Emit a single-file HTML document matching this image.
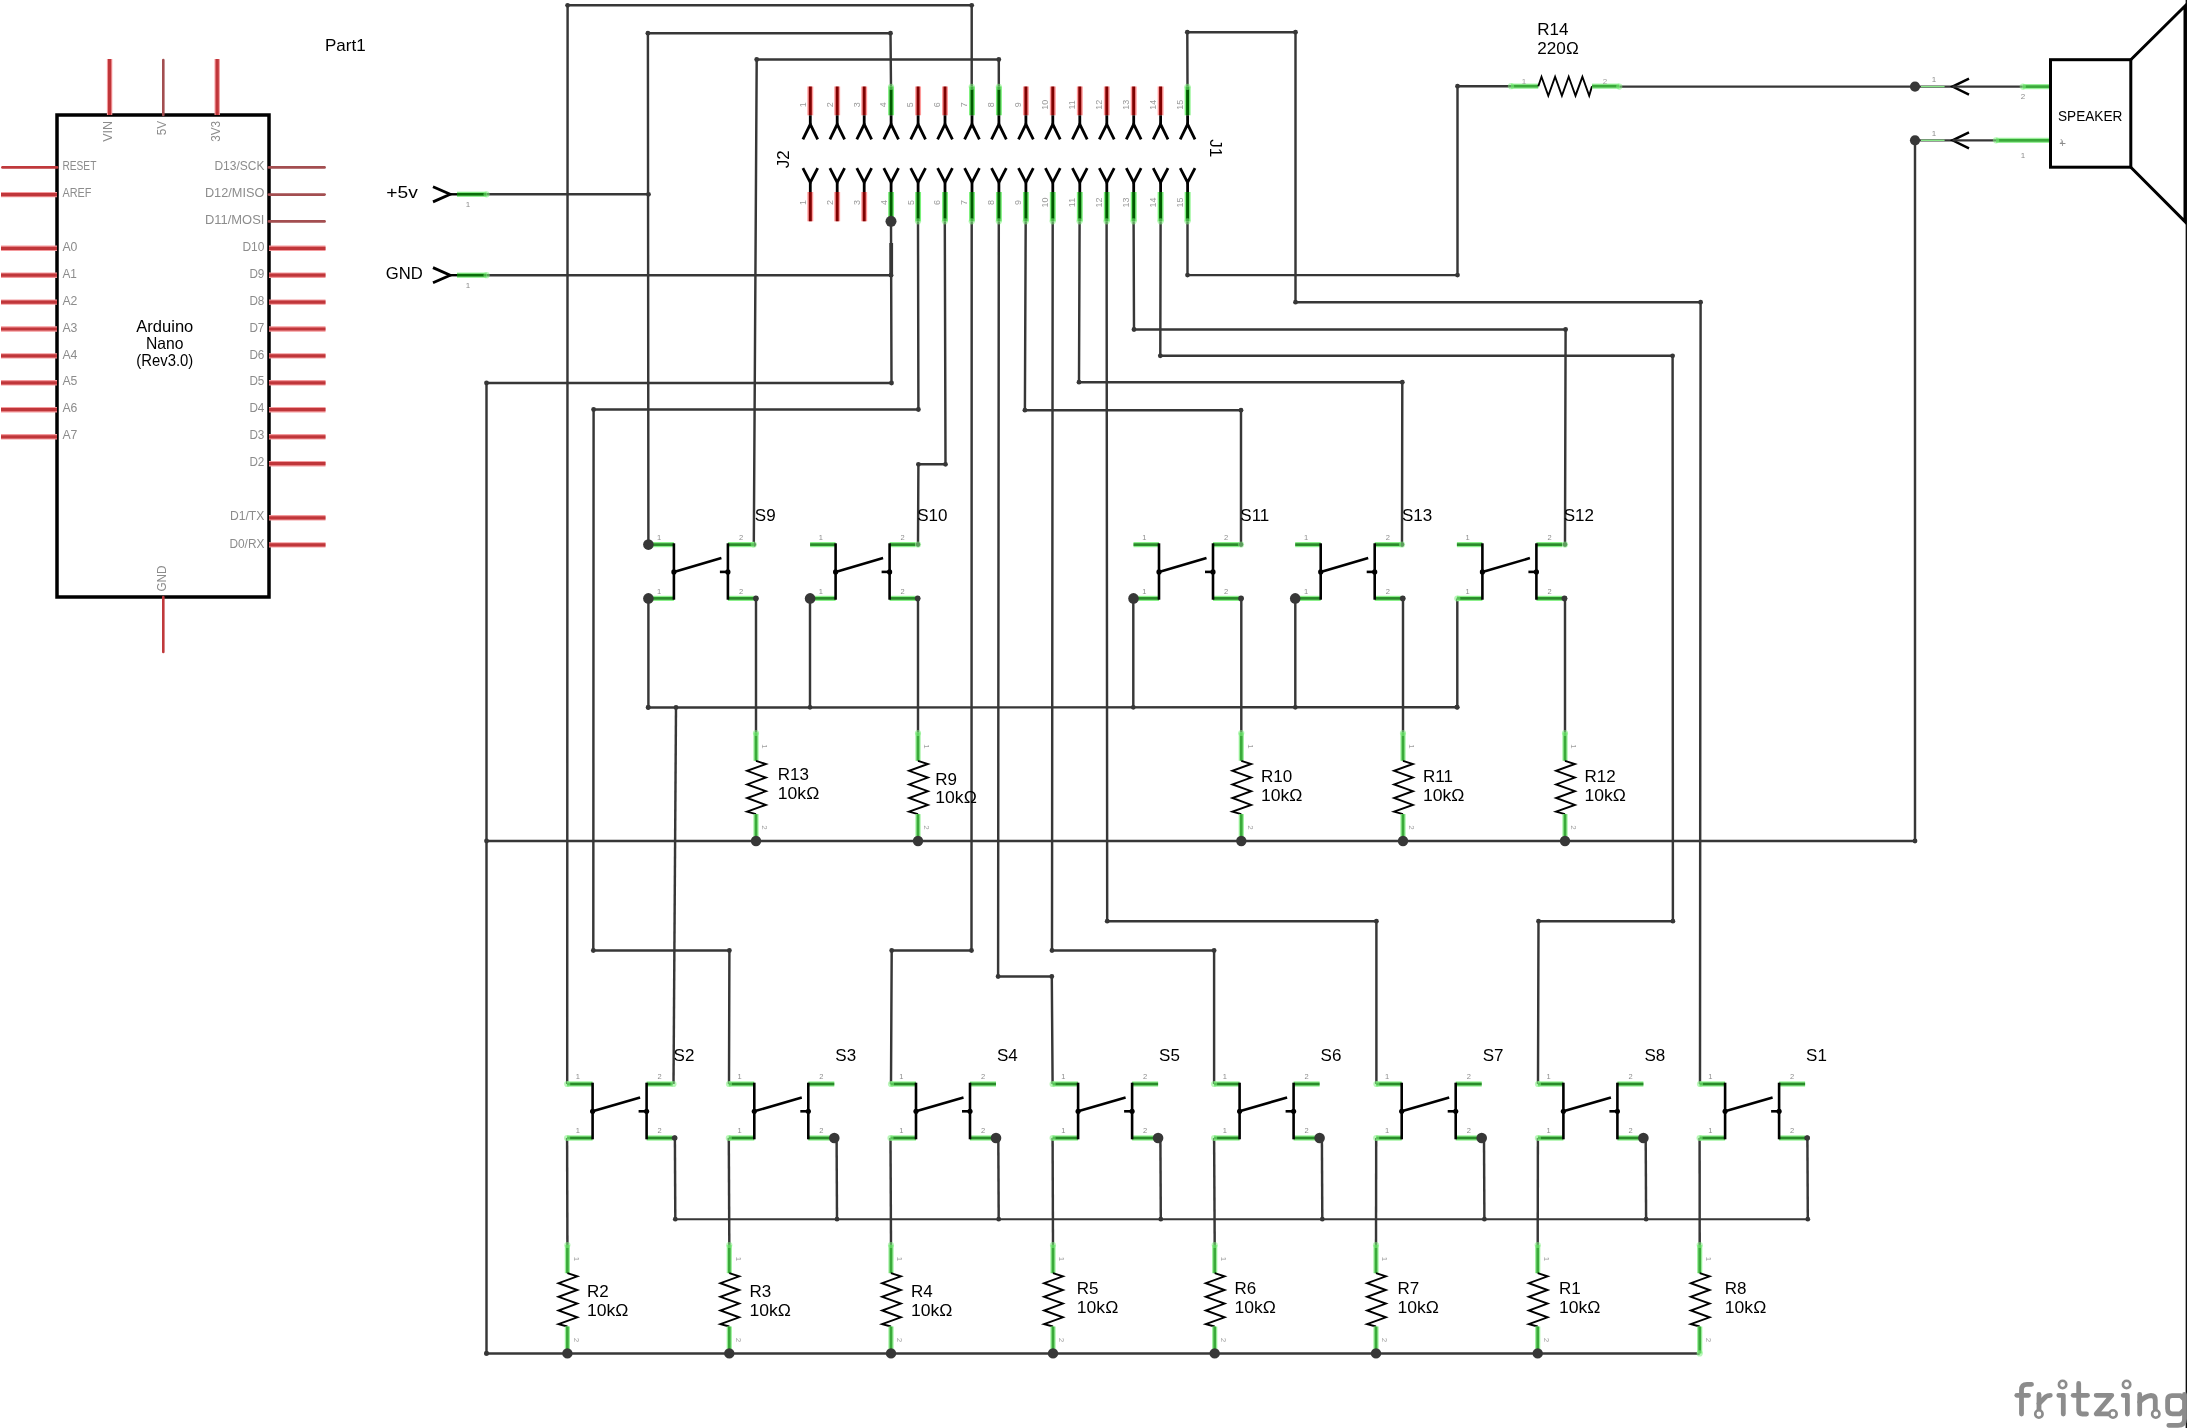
<!DOCTYPE html><html><head><meta charset="utf-8"><style>html,body{margin:0;padding:0;background:#fff;}svg{display:block;will-change:transform;}</style></head><body><svg width="2187" height="1428" viewBox="0 0 2187 1428" font-family='"Liberation Sans", sans-serif'>
<rect width="2187" height="1428" fill="#fff"/>
<polyline points="486.6,194.3 648.5,194.3" fill="none" stroke="#373737" stroke-width="2.45" stroke-linejoin="miter" stroke-linecap="butt"/>
<circle cx="648.5" cy="194.3" r="2.4" fill="#373737"/>
<polyline points="486.6,275.2 891,275.2" fill="none" stroke="#373737" stroke-width="2.45" stroke-linejoin="miter" stroke-linecap="butt"/>
<circle cx="891" cy="275.2" r="2.4" fill="#373737"/>
<polyline points="891,86.8 890.5,33.2 647.9,33.2 648.4,544.6" fill="none" stroke="#373737" stroke-width="2.45" stroke-linejoin="miter" stroke-linecap="butt"/>
<circle cx="890.5" cy="33.2" r="2.4" fill="#373737"/>
<circle cx="647.9" cy="33.2" r="2.4" fill="#373737"/>
<polyline points="971.7,86.8 971.7,5.3 567.6,5.3 567.2,1084" fill="none" stroke="#373737" stroke-width="2.45" stroke-linejoin="miter" stroke-linecap="butt"/>
<circle cx="971.7" cy="5.3" r="2.4" fill="#373737"/>
<circle cx="567.6" cy="5.3" r="2.4" fill="#373737"/>
<polyline points="998.8,86.8 998.8,59.5 756.7,59.5 753.8,544.6" fill="none" stroke="#373737" stroke-width="2.45" stroke-linejoin="miter" stroke-linecap="butt"/>
<circle cx="998.8" cy="59.5" r="2.4" fill="#373737"/>
<circle cx="756.7" cy="59.5" r="2.4" fill="#373737"/>
<circle cx="753.8" cy="544.6" r="2.3" fill="#373737"/>
<polyline points="1187.5,86.8 1187.3,32.2 1295.5,32.2 1295.5,302.2 1700.6,302.2 1700,1084" fill="none" stroke="#373737" stroke-width="2.45" stroke-linejoin="miter" stroke-linecap="butt"/>
<circle cx="1187.3" cy="32.2" r="2.4" fill="#373737"/>
<circle cx="1295.5" cy="32.2" r="2.4" fill="#373737"/>
<circle cx="1295.5" cy="302.2" r="2.4" fill="#373737"/>
<circle cx="1700.6" cy="302.2" r="2.4" fill="#373737"/>
<polyline points="891,221.3 891.5,383 486.5,383 486.5,1353.4" fill="none" stroke="#373737" stroke-width="2.45" stroke-linejoin="miter" stroke-linecap="butt"/>
<circle cx="891.5" cy="383" r="2.4" fill="#373737"/>
<circle cx="486.5" cy="383" r="2.4" fill="#373737"/>
<circle cx="486.5" cy="1353.4" r="2.4" fill="#373737"/>
<polyline points="918,221.3 918.4,409.5 593.6,409.5 593.3,950.5 729.4,950.5 729,1084" fill="none" stroke="#373737" stroke-width="2.45" stroke-linejoin="miter" stroke-linecap="butt"/>
<circle cx="918.4" cy="409.5" r="2.4" fill="#373737"/>
<circle cx="593.6" cy="409.5" r="2.4" fill="#373737"/>
<circle cx="593.3" cy="950.5" r="2.4" fill="#373737"/>
<circle cx="729.4" cy="950.5" r="2.4" fill="#373737"/>
<polyline points="944.8,221.3 945.5,464.3 918.4,464.3 918,544.6" fill="none" stroke="#373737" stroke-width="2.45" stroke-linejoin="miter" stroke-linecap="butt"/>
<circle cx="945.5" cy="464.3" r="2.4" fill="#373737"/>
<circle cx="918.4" cy="464.3" r="2.4" fill="#373737"/>
<circle cx="918" cy="544.6" r="2.3" fill="#373737"/>
<polyline points="971.7,221.3 971.5,950.5 891.7,950.5 891,1084" fill="none" stroke="#373737" stroke-width="2.45" stroke-linejoin="miter" stroke-linecap="butt"/>
<circle cx="971.5" cy="950.5" r="2.4" fill="#373737"/>
<circle cx="891.7" cy="950.5" r="2.4" fill="#373737"/>
<polyline points="998.8,221.3 998.1,976.5 1051.8,976.5 1052.6,1084" fill="none" stroke="#373737" stroke-width="2.45" stroke-linejoin="miter" stroke-linecap="butt"/>
<circle cx="998.1" cy="976.5" r="2.4" fill="#373737"/>
<circle cx="1051.8" cy="976.5" r="2.4" fill="#373737"/>
<polyline points="1025.7,221.3 1024.9,410.2 1241,410.2 1241,544.6" fill="none" stroke="#373737" stroke-width="2.45" stroke-linejoin="miter" stroke-linecap="butt"/>
<circle cx="1024.9" cy="410.2" r="2.4" fill="#373737"/>
<circle cx="1241" cy="410.2" r="2.4" fill="#373737"/>
<circle cx="1241" cy="544.6" r="2.3" fill="#373737"/>
<polyline points="1052.7,221.3 1052,950.5 1214.1,950.5 1214.1,1084" fill="none" stroke="#373737" stroke-width="2.45" stroke-linejoin="miter" stroke-linecap="butt"/>
<circle cx="1052" cy="950.5" r="2.4" fill="#373737"/>
<circle cx="1214.1" cy="950.5" r="2.4" fill="#373737"/>
<polyline points="1079.6,221.3 1079,382.2 1402.3,382.2 1402,544.6" fill="none" stroke="#373737" stroke-width="2.45" stroke-linejoin="miter" stroke-linecap="butt"/>
<circle cx="1079" cy="382.2" r="2.4" fill="#373737"/>
<circle cx="1402.3" cy="382.2" r="2.4" fill="#373737"/>
<circle cx="1402" cy="544.6" r="2.3" fill="#373737"/>
<polyline points="1106.6,221.3 1107.2,921.2 1376.4,921.2 1376.4,1084" fill="none" stroke="#373737" stroke-width="2.45" stroke-linejoin="miter" stroke-linecap="butt"/>
<circle cx="1107.2" cy="921.2" r="2.4" fill="#373737"/>
<circle cx="1376.4" cy="921.2" r="2.4" fill="#373737"/>
<polyline points="1133.6,221.3 1134,329.5 1565.6,329.5 1565,544.6" fill="none" stroke="#373737" stroke-width="2.45" stroke-linejoin="miter" stroke-linecap="butt"/>
<circle cx="1134" cy="329.5" r="2.4" fill="#373737"/>
<circle cx="1565.6" cy="329.5" r="2.4" fill="#373737"/>
<circle cx="1565" cy="544.6" r="2.3" fill="#373737"/>
<polyline points="1160.6,221.3 1160.3,355.8 1672.6,355.8 1672.9,921.2 1538.5,921.2 1538,1084" fill="none" stroke="#373737" stroke-width="2.45" stroke-linejoin="miter" stroke-linecap="butt"/>
<circle cx="1160.3" cy="355.8" r="2.4" fill="#373737"/>
<circle cx="1672.6" cy="355.8" r="2.4" fill="#373737"/>
<circle cx="1672.9" cy="921.2" r="2.4" fill="#373737"/>
<circle cx="1538.5" cy="921.2" r="2.4" fill="#373737"/>
<polyline points="1187.5,221.3 1187.5,275.1 1457.5,275.1 1457.5,86.2 1511,86.2" fill="none" stroke="#373737" stroke-width="2.45" stroke-linejoin="miter" stroke-linecap="butt"/>
<circle cx="1187.5" cy="275.1" r="2.4" fill="#373737"/>
<circle cx="1457.5" cy="275.1" r="2.4" fill="#373737"/>
<circle cx="1457.5" cy="86.2" r="2.4" fill="#373737"/>
<polyline points="1619.3,86.6 1915,86.6" fill="none" stroke="#373737" stroke-width="2.45" stroke-linejoin="miter" stroke-linecap="butt"/>
<polyline points="1915,140.3 1915,841" fill="none" stroke="#373737" stroke-width="2.45" stroke-linejoin="miter" stroke-linecap="butt"/>
<circle cx="1915" cy="841" r="2.4" fill="#373737"/>
<polyline points="648.1,707.5 1456.8,707.2" fill="none" stroke="#373737" stroke-width="2.45" stroke-linejoin="miter" stroke-linecap="butt"/>
<circle cx="648.1" cy="707.5" r="2.4" fill="#373737"/>
<circle cx="1456.8" cy="707.2" r="2.4" fill="#373737"/>
<polyline points="648.4,598.5 648.4,707.3" fill="none" stroke="#373737" stroke-width="2.45" stroke-linejoin="miter" stroke-linecap="butt"/>
<circle cx="648.4" cy="707.3" r="2.4" fill="#373737"/>
<polyline points="810,598.5 810,707.3" fill="none" stroke="#373737" stroke-width="2.45" stroke-linejoin="miter" stroke-linecap="butt"/>
<circle cx="810" cy="707.3" r="2.4" fill="#373737"/>
<polyline points="1133.3,598.5 1133.3,707.3" fill="none" stroke="#373737" stroke-width="2.45" stroke-linejoin="miter" stroke-linecap="butt"/>
<circle cx="1133.3" cy="707.3" r="2.4" fill="#373737"/>
<polyline points="1295.3,598.5 1295.3,707.3" fill="none" stroke="#373737" stroke-width="2.45" stroke-linejoin="miter" stroke-linecap="butt"/>
<circle cx="1295.3" cy="707.3" r="2.4" fill="#373737"/>
<polyline points="1457.3,598.5 1457.3,707.3" fill="none" stroke="#373737" stroke-width="2.45" stroke-linejoin="miter" stroke-linecap="butt"/>
<circle cx="1457.3" cy="707.3" r="2.4" fill="#373737"/>
<polyline points="676,707.5 673.5,1084" fill="none" stroke="#373737" stroke-width="2.45" stroke-linejoin="miter" stroke-linecap="butt"/>
<circle cx="676" cy="707.5" r="2.4" fill="#373737"/>
<polyline points="756,598.5 756,733" fill="none" stroke="#373737" stroke-width="2.45" stroke-linejoin="miter" stroke-linecap="butt"/>
<circle cx="756" cy="598.5" r="2.4" fill="#373737"/>
<polyline points="918,598.5 918,733" fill="none" stroke="#373737" stroke-width="2.45" stroke-linejoin="miter" stroke-linecap="butt"/>
<circle cx="918" cy="598.5" r="2.4" fill="#373737"/>
<polyline points="1241.3,598.5 1241.3,733" fill="none" stroke="#373737" stroke-width="2.45" stroke-linejoin="miter" stroke-linecap="butt"/>
<circle cx="1241.3" cy="598.5" r="2.4" fill="#373737"/>
<polyline points="1403,598.5 1403,733" fill="none" stroke="#373737" stroke-width="2.45" stroke-linejoin="miter" stroke-linecap="butt"/>
<circle cx="1403" cy="598.5" r="2.4" fill="#373737"/>
<polyline points="1565,598.5 1565,733" fill="none" stroke="#373737" stroke-width="2.45" stroke-linejoin="miter" stroke-linecap="butt"/>
<circle cx="1565" cy="598.5" r="2.4" fill="#373737"/>
<polyline points="486.5,841 1915,841" fill="none" stroke="#373737" stroke-width="2.45" stroke-linejoin="miter" stroke-linecap="butt"/>
<circle cx="486.5" cy="841" r="2.4" fill="#373737"/>
<polyline points="674.9,1138 675.3,1219.2" fill="none" stroke="#373737" stroke-width="2.45" stroke-linejoin="miter" stroke-linecap="butt"/>
<circle cx="674.9" cy="1138" r="2.4" fill="#373737"/>
<circle cx="675.3" cy="1219.2" r="2.4" fill="#373737"/>
<polyline points="836.6,1138 837,1219.2" fill="none" stroke="#373737" stroke-width="2.45" stroke-linejoin="miter" stroke-linecap="butt"/>
<circle cx="837" cy="1219.2" r="2.4" fill="#373737"/>
<polyline points="998.3,1138 998.7,1219.2" fill="none" stroke="#373737" stroke-width="2.45" stroke-linejoin="miter" stroke-linecap="butt"/>
<circle cx="998.7" cy="1219.2" r="2.4" fill="#373737"/>
<polyline points="1160.4,1138 1160.8,1219.2" fill="none" stroke="#373737" stroke-width="2.45" stroke-linejoin="miter" stroke-linecap="butt"/>
<circle cx="1160.8" cy="1219.2" r="2.4" fill="#373737"/>
<polyline points="1321.9,1138 1322.3,1219.2" fill="none" stroke="#373737" stroke-width="2.45" stroke-linejoin="miter" stroke-linecap="butt"/>
<circle cx="1322.3" cy="1219.2" r="2.4" fill="#373737"/>
<polyline points="1484,1138 1484.4,1219.2" fill="none" stroke="#373737" stroke-width="2.45" stroke-linejoin="miter" stroke-linecap="butt"/>
<circle cx="1484.4" cy="1219.2" r="2.4" fill="#373737"/>
<polyline points="1645.7,1138 1646.1,1219.2" fill="none" stroke="#373737" stroke-width="2.45" stroke-linejoin="miter" stroke-linecap="butt"/>
<circle cx="1646.1" cy="1219.2" r="2.4" fill="#373737"/>
<polyline points="1807.4,1138 1807.8,1219.2" fill="none" stroke="#373737" stroke-width="2.45" stroke-linejoin="miter" stroke-linecap="butt"/>
<circle cx="1807.4" cy="1138" r="2.4" fill="#373737"/>
<circle cx="1807.8" cy="1219.2" r="2.4" fill="#373737"/>
<polyline points="675.4,1219.2 1807.8,1219.2" fill="none" stroke="#373737" stroke-width="2.0" stroke-linejoin="miter" stroke-linecap="butt"/>
<polyline points="567.1,1138 567.4,1245" fill="none" stroke="#373737" stroke-width="2.45" stroke-linejoin="miter" stroke-linecap="butt"/>
<polyline points="728.8,1138 729.3,1245" fill="none" stroke="#373737" stroke-width="2.45" stroke-linejoin="miter" stroke-linecap="butt"/>
<polyline points="890.5,1138 891,1245" fill="none" stroke="#373737" stroke-width="2.45" stroke-linejoin="miter" stroke-linecap="butt"/>
<polyline points="1052.6,1138 1053,1245" fill="none" stroke="#373737" stroke-width="2.45" stroke-linejoin="miter" stroke-linecap="butt"/>
<polyline points="1214.1,1138 1214.7,1245" fill="none" stroke="#373737" stroke-width="2.45" stroke-linejoin="miter" stroke-linecap="butt"/>
<polyline points="1376.2,1138 1376,1245" fill="none" stroke="#373737" stroke-width="2.45" stroke-linejoin="miter" stroke-linecap="butt"/>
<polyline points="1537.9,1138 1537.7,1245" fill="none" stroke="#373737" stroke-width="2.45" stroke-linejoin="miter" stroke-linecap="butt"/>
<polyline points="1699.6,1138 1699.7,1245" fill="none" stroke="#373737" stroke-width="2.45" stroke-linejoin="miter" stroke-linecap="butt"/>
<polyline points="486.5,1353.4 1699.7,1353.4" fill="none" stroke="#373737" stroke-width="2.45" stroke-linejoin="miter" stroke-linecap="butt"/>
<circle cx="486.5" cy="1353.4" r="2.4" fill="#373737"/>
<rect x="57" y="115" width="212" height="482" fill="none" stroke="#000" stroke-width="3.5"/>
<line x1="109.6" y1="59" x2="109.6" y2="115" stroke="#f49a9d" stroke-width="5.4" stroke-linecap="butt"/>
<line x1="109.6" y1="59" x2="109.6" y2="115" stroke="#c0363a" stroke-width="3.2" stroke-linecap="butt"/>
<line x1="163.3" y1="60" x2="163.3" y2="115" stroke="#a34e50" stroke-width="2.6" stroke-linecap="round"/>
<line x1="217.2" y1="59" x2="217.2" y2="115" stroke="#f49a9d" stroke-width="5.4" stroke-linecap="butt"/>
<line x1="217.2" y1="59" x2="217.2" y2="115" stroke="#c0363a" stroke-width="3.2" stroke-linecap="butt"/>
<text x="112.2" y="120.8" font-size="12.5" fill="#8c8c8c" text-anchor="end" textLength="21" lengthAdjust="spacingAndGlyphs" transform="rotate(-90 112.2 120.8)">VIN</text>
<text x="166" y="120.8" font-size="12.5" fill="#8c8c8c" text-anchor="end" textLength="14.5" lengthAdjust="spacingAndGlyphs" transform="rotate(-90 166 120.8)">5V</text>
<text x="219.9" y="120.8" font-size="12.5" fill="#8c8c8c" text-anchor="end" textLength="21" lengthAdjust="spacingAndGlyphs" transform="rotate(-90 219.9 120.8)">3V3</text>
<line x1="2.5" y1="167.4" x2="57" y2="167.4" stroke="#c0393c" stroke-width="2.8" stroke-linecap="round"/>
<text x="62.4" y="170" font-size="12.5" fill="#8c8c8c" text-anchor="start" textLength="34" lengthAdjust="spacingAndGlyphs">RESET</text>
<line x1="1" y1="194.6" x2="57" y2="194.6" stroke="#f49a9d" stroke-width="5.4" stroke-linecap="butt"/>
<line x1="1" y1="194.6" x2="57" y2="194.6" stroke="#c0363a" stroke-width="3.2" stroke-linecap="butt"/>
<text x="62.4" y="197.2" font-size="12.5" fill="#8c8c8c" text-anchor="start" textLength="29" lengthAdjust="spacingAndGlyphs">AREF</text>
<line x1="1" y1="248.3" x2="57" y2="248.3" stroke="#f49a9d" stroke-width="5.4" stroke-linecap="butt"/>
<line x1="1" y1="248.3" x2="57" y2="248.3" stroke="#c0363a" stroke-width="3.2" stroke-linecap="butt"/>
<text x="62.4" y="250.9" font-size="12.5" fill="#8c8c8c" text-anchor="start" textLength="15" lengthAdjust="spacingAndGlyphs">A0</text>
<line x1="1" y1="275.2" x2="57" y2="275.2" stroke="#f49a9d" stroke-width="5.4" stroke-linecap="butt"/>
<line x1="1" y1="275.2" x2="57" y2="275.2" stroke="#c0363a" stroke-width="3.2" stroke-linecap="butt"/>
<text x="62.4" y="277.8" font-size="12.5" fill="#8c8c8c" text-anchor="start" textLength="14.5" lengthAdjust="spacingAndGlyphs">A1</text>
<line x1="1" y1="302.1" x2="57" y2="302.1" stroke="#f49a9d" stroke-width="5.4" stroke-linecap="butt"/>
<line x1="1" y1="302.1" x2="57" y2="302.1" stroke="#c0363a" stroke-width="3.2" stroke-linecap="butt"/>
<text x="62.4" y="304.7" font-size="12.5" fill="#8c8c8c" text-anchor="start" textLength="15" lengthAdjust="spacingAndGlyphs">A2</text>
<line x1="1" y1="329" x2="57" y2="329" stroke="#f49a9d" stroke-width="5.4" stroke-linecap="butt"/>
<line x1="1" y1="329" x2="57" y2="329" stroke="#c0363a" stroke-width="3.2" stroke-linecap="butt"/>
<text x="62.4" y="331.6" font-size="12.5" fill="#8c8c8c" text-anchor="start" textLength="15" lengthAdjust="spacingAndGlyphs">A3</text>
<line x1="1" y1="355.9" x2="57" y2="355.9" stroke="#f49a9d" stroke-width="5.4" stroke-linecap="butt"/>
<line x1="1" y1="355.9" x2="57" y2="355.9" stroke="#c0363a" stroke-width="3.2" stroke-linecap="butt"/>
<text x="62.4" y="358.5" font-size="12.5" fill="#8c8c8c" text-anchor="start" textLength="15" lengthAdjust="spacingAndGlyphs">A4</text>
<line x1="1" y1="382.8" x2="57" y2="382.8" stroke="#f49a9d" stroke-width="5.4" stroke-linecap="butt"/>
<line x1="1" y1="382.8" x2="57" y2="382.8" stroke="#c0363a" stroke-width="3.2" stroke-linecap="butt"/>
<text x="62.4" y="385.4" font-size="12.5" fill="#8c8c8c" text-anchor="start" textLength="15" lengthAdjust="spacingAndGlyphs">A5</text>
<line x1="1" y1="409.7" x2="57" y2="409.7" stroke="#f49a9d" stroke-width="5.4" stroke-linecap="butt"/>
<line x1="1" y1="409.7" x2="57" y2="409.7" stroke="#c0363a" stroke-width="3.2" stroke-linecap="butt"/>
<text x="62.4" y="412.3" font-size="12.5" fill="#8c8c8c" text-anchor="start" textLength="15" lengthAdjust="spacingAndGlyphs">A6</text>
<line x1="1" y1="436.8" x2="57" y2="436.8" stroke="#f49a9d" stroke-width="5.4" stroke-linecap="butt"/>
<line x1="1" y1="436.8" x2="57" y2="436.8" stroke="#c0363a" stroke-width="3.2" stroke-linecap="butt"/>
<text x="62.4" y="439.4" font-size="12.5" fill="#8c8c8c" text-anchor="start" textLength="15" lengthAdjust="spacingAndGlyphs">A7</text>
<line x1="269" y1="167.4" x2="324.5" y2="167.4" stroke="#a34e50" stroke-width="2.8" stroke-linecap="round"/>
<text x="264.4" y="170" font-size="12.5" fill="#8c8c8c" text-anchor="end" textLength="50" lengthAdjust="spacingAndGlyphs">D13/SCK</text>
<line x1="269" y1="194.6" x2="324.5" y2="194.6" stroke="#a34e50" stroke-width="2.8" stroke-linecap="round"/>
<text x="264.4" y="197.2" font-size="12.5" fill="#8c8c8c" text-anchor="end" textLength="59.5" lengthAdjust="spacingAndGlyphs">D12/MISO</text>
<line x1="269" y1="221.4" x2="324.5" y2="221.4" stroke="#a34e50" stroke-width="2.8" stroke-linecap="round"/>
<text x="264.4" y="224" font-size="12.5" fill="#8c8c8c" text-anchor="end" textLength="59.5" lengthAdjust="spacingAndGlyphs">D11/MOSI</text>
<line x1="269" y1="248.3" x2="325.5" y2="248.3" stroke="#f49a9d" stroke-width="5.4" stroke-linecap="butt"/>
<line x1="269" y1="248.3" x2="325.5" y2="248.3" stroke="#c0363a" stroke-width="3.2" stroke-linecap="butt"/>
<text x="264.4" y="250.9" font-size="12.5" fill="#8c8c8c" text-anchor="end" textLength="22" lengthAdjust="spacingAndGlyphs">D10</text>
<line x1="269" y1="275.2" x2="325.5" y2="275.2" stroke="#f49a9d" stroke-width="5.4" stroke-linecap="butt"/>
<line x1="269" y1="275.2" x2="325.5" y2="275.2" stroke="#c0363a" stroke-width="3.2" stroke-linecap="butt"/>
<text x="264.4" y="277.8" font-size="12.5" fill="#8c8c8c" text-anchor="end" textLength="15" lengthAdjust="spacingAndGlyphs">D9</text>
<line x1="269" y1="302.1" x2="325.5" y2="302.1" stroke="#f49a9d" stroke-width="5.4" stroke-linecap="butt"/>
<line x1="269" y1="302.1" x2="325.5" y2="302.1" stroke="#c0363a" stroke-width="3.2" stroke-linecap="butt"/>
<text x="264.4" y="304.7" font-size="12.5" fill="#8c8c8c" text-anchor="end" textLength="15" lengthAdjust="spacingAndGlyphs">D8</text>
<line x1="269" y1="329" x2="325.5" y2="329" stroke="#f49a9d" stroke-width="5.4" stroke-linecap="butt"/>
<line x1="269" y1="329" x2="325.5" y2="329" stroke="#c0363a" stroke-width="3.2" stroke-linecap="butt"/>
<text x="264.4" y="331.6" font-size="12.5" fill="#8c8c8c" text-anchor="end" textLength="15" lengthAdjust="spacingAndGlyphs">D7</text>
<line x1="269" y1="355.9" x2="325.5" y2="355.9" stroke="#f49a9d" stroke-width="5.4" stroke-linecap="butt"/>
<line x1="269" y1="355.9" x2="325.5" y2="355.9" stroke="#c0363a" stroke-width="3.2" stroke-linecap="butt"/>
<text x="264.4" y="358.5" font-size="12.5" fill="#8c8c8c" text-anchor="end" textLength="15" lengthAdjust="spacingAndGlyphs">D6</text>
<line x1="269" y1="382.8" x2="325.5" y2="382.8" stroke="#f49a9d" stroke-width="5.4" stroke-linecap="butt"/>
<line x1="269" y1="382.8" x2="325.5" y2="382.8" stroke="#c0363a" stroke-width="3.2" stroke-linecap="butt"/>
<text x="264.4" y="385.4" font-size="12.5" fill="#8c8c8c" text-anchor="end" textLength="15" lengthAdjust="spacingAndGlyphs">D5</text>
<line x1="269" y1="409.7" x2="325.5" y2="409.7" stroke="#f49a9d" stroke-width="5.4" stroke-linecap="butt"/>
<line x1="269" y1="409.7" x2="325.5" y2="409.7" stroke="#c0363a" stroke-width="3.2" stroke-linecap="butt"/>
<text x="264.4" y="412.3" font-size="12.5" fill="#8c8c8c" text-anchor="end" textLength="15" lengthAdjust="spacingAndGlyphs">D4</text>
<line x1="269" y1="436.8" x2="325.5" y2="436.8" stroke="#f49a9d" stroke-width="5.4" stroke-linecap="butt"/>
<line x1="269" y1="436.8" x2="325.5" y2="436.8" stroke="#c0363a" stroke-width="3.2" stroke-linecap="butt"/>
<text x="264.4" y="439.4" font-size="12.5" fill="#8c8c8c" text-anchor="end" textLength="15" lengthAdjust="spacingAndGlyphs">D3</text>
<line x1="269" y1="463.7" x2="325.5" y2="463.7" stroke="#f49a9d" stroke-width="5.4" stroke-linecap="butt"/>
<line x1="269" y1="463.7" x2="325.5" y2="463.7" stroke="#c0363a" stroke-width="3.2" stroke-linecap="butt"/>
<text x="264.4" y="466.3" font-size="12.5" fill="#8c8c8c" text-anchor="end" textLength="15" lengthAdjust="spacingAndGlyphs">D2</text>
<line x1="269" y1="517.8" x2="325.5" y2="517.8" stroke="#f49a9d" stroke-width="5.4" stroke-linecap="butt"/>
<line x1="269" y1="517.8" x2="325.5" y2="517.8" stroke="#c0363a" stroke-width="3.2" stroke-linecap="butt"/>
<text x="264.4" y="520.4" font-size="12.5" fill="#8c8c8c" text-anchor="end" textLength="34.5" lengthAdjust="spacingAndGlyphs">D1/TX</text>
<line x1="269" y1="544.9" x2="325.5" y2="544.9" stroke="#f49a9d" stroke-width="5.4" stroke-linecap="butt"/>
<line x1="269" y1="544.9" x2="325.5" y2="544.9" stroke="#c0363a" stroke-width="3.2" stroke-linecap="butt"/>
<text x="264.4" y="547.5" font-size="12.5" fill="#8c8c8c" text-anchor="end" textLength="35" lengthAdjust="spacingAndGlyphs">D0/RX</text>
<line x1="163.3" y1="597" x2="163.3" y2="652" stroke="#c0393c" stroke-width="2.6" stroke-linecap="round"/>
<text x="166" y="591.5" font-size="12.5" fill="#8c8c8c" text-anchor="start" textLength="26" lengthAdjust="spacingAndGlyphs" transform="rotate(-90 166 591.5)">GND</text>
<text x="164.8" y="332.3" font-size="16.5" fill="#000" text-anchor="middle" textLength="57" lengthAdjust="spacingAndGlyphs">Arduino</text>
<text x="164.8" y="349.2" font-size="16.5" fill="#000" text-anchor="middle" textLength="37.5" lengthAdjust="spacingAndGlyphs">Nano</text>
<text x="164.8" y="366.1" font-size="16.5" fill="#000" text-anchor="middle" textLength="57" lengthAdjust="spacingAndGlyphs">(Rev3.0)</text>
<text x="325" y="51" font-size="17" fill="#000" text-anchor="start" textLength="40.7" lengthAdjust="spacingAndGlyphs">Part1</text>
<line x1="810.3" y1="86.5" x2="810.3" y2="115.3" stroke="#ff9a9a" stroke-width="5.9" stroke-linecap="butt"/>
<line x1="810.3" y1="86.5" x2="810.3" y2="115.3" stroke="#800000" stroke-width="3.0" stroke-linecap="butt"/>
<line x1="810.3" y1="115.3" x2="810.3" y2="124.3" stroke="#000" stroke-width="2.8" stroke-linecap="butt"/>
<polyline points="802.9,139.4 810.3,124.3 817.7,139.4" fill="none" stroke="#000" stroke-width="2.8" stroke-linejoin="miter"/>
<text x="805.7" y="104.8" font-size="9" fill="#9a9a9a" text-anchor="middle" transform="rotate(-90 805.7 104.8)">1</text>
<line x1="810.3" y1="192" x2="810.3" y2="221.3" stroke="#ff9a9a" stroke-width="5.9" stroke-linecap="butt"/>
<line x1="810.3" y1="192" x2="810.3" y2="221.3" stroke="#800000" stroke-width="3.0" stroke-linecap="butt"/>
<line x1="810.3" y1="182.5" x2="810.3" y2="192" stroke="#000" stroke-width="2.8" stroke-linecap="butt"/>
<polyline points="802.9,168.2 810.3,182.5 817.7,168.2" fill="none" stroke="#000" stroke-width="2.8" stroke-linejoin="miter"/>
<text x="805.7" y="202.5" font-size="9" fill="#9a9a9a" text-anchor="middle" transform="rotate(-90 805.7 202.5)">1</text>
<line x1="837.2" y1="86.5" x2="837.2" y2="115.3" stroke="#ff9a9a" stroke-width="5.9" stroke-linecap="butt"/>
<line x1="837.2" y1="86.5" x2="837.2" y2="115.3" stroke="#800000" stroke-width="3.0" stroke-linecap="butt"/>
<line x1="837.2" y1="115.3" x2="837.2" y2="124.3" stroke="#000" stroke-width="2.8" stroke-linecap="butt"/>
<polyline points="829.9,139.4 837.2,124.3 844.6,139.4" fill="none" stroke="#000" stroke-width="2.8" stroke-linejoin="miter"/>
<text x="832.6" y="104.8" font-size="9" fill="#9a9a9a" text-anchor="middle" transform="rotate(-90 832.6 104.8)">2</text>
<line x1="837.2" y1="192" x2="837.2" y2="221.3" stroke="#ff9a9a" stroke-width="5.9" stroke-linecap="butt"/>
<line x1="837.2" y1="192" x2="837.2" y2="221.3" stroke="#800000" stroke-width="3.0" stroke-linecap="butt"/>
<line x1="837.2" y1="182.5" x2="837.2" y2="192" stroke="#000" stroke-width="2.8" stroke-linecap="butt"/>
<polyline points="829.9,168.2 837.2,182.5 844.6,168.2" fill="none" stroke="#000" stroke-width="2.8" stroke-linejoin="miter"/>
<text x="832.6" y="202.5" font-size="9" fill="#9a9a9a" text-anchor="middle" transform="rotate(-90 832.6 202.5)">2</text>
<line x1="864.2" y1="86.5" x2="864.2" y2="115.3" stroke="#ff9a9a" stroke-width="5.9" stroke-linecap="butt"/>
<line x1="864.2" y1="86.5" x2="864.2" y2="115.3" stroke="#800000" stroke-width="3.0" stroke-linecap="butt"/>
<line x1="864.2" y1="115.3" x2="864.2" y2="124.3" stroke="#000" stroke-width="2.8" stroke-linecap="butt"/>
<polyline points="856.8,139.4 864.2,124.3 871.6,139.4" fill="none" stroke="#000" stroke-width="2.8" stroke-linejoin="miter"/>
<text x="859.6" y="104.8" font-size="9" fill="#9a9a9a" text-anchor="middle" transform="rotate(-90 859.6 104.8)">3</text>
<line x1="864.2" y1="192" x2="864.2" y2="221.3" stroke="#ff9a9a" stroke-width="5.9" stroke-linecap="butt"/>
<line x1="864.2" y1="192" x2="864.2" y2="221.3" stroke="#800000" stroke-width="3.0" stroke-linecap="butt"/>
<line x1="864.2" y1="182.5" x2="864.2" y2="192" stroke="#000" stroke-width="2.8" stroke-linecap="butt"/>
<polyline points="856.8,168.2 864.2,182.5 871.6,168.2" fill="none" stroke="#000" stroke-width="2.8" stroke-linejoin="miter"/>
<text x="859.6" y="202.5" font-size="9" fill="#9a9a9a" text-anchor="middle" transform="rotate(-90 859.6 202.5)">3</text>
<line x1="891.1" y1="86.5" x2="891.1" y2="115.3" stroke="#7af07a" stroke-width="5.9" stroke-linecap="butt"/>
<line x1="891.1" y1="86.5" x2="891.1" y2="115.3" stroke="#005a00" stroke-width="3.0" stroke-linecap="butt"/>
<line x1="891.1" y1="115.3" x2="891.1" y2="124.3" stroke="#000" stroke-width="2.8" stroke-linecap="butt"/>
<polyline points="883.8,139.4 891.1,124.3 898.5,139.4" fill="none" stroke="#000" stroke-width="2.8" stroke-linejoin="miter"/>
<text x="886.5" y="104.8" font-size="9" fill="#9a9a9a" text-anchor="middle" transform="rotate(-90 886.5 104.8)">4</text>
<line x1="891.1" y1="192" x2="891.1" y2="221.3" stroke="#7af07a" stroke-width="5.9" stroke-linecap="butt"/>
<line x1="891.1" y1="192" x2="891.1" y2="221.3" stroke="#005a00" stroke-width="3.0" stroke-linecap="butt"/>
<line x1="891.1" y1="182.5" x2="891.1" y2="192" stroke="#000" stroke-width="2.8" stroke-linecap="butt"/>
<polyline points="883.8,168.2 891.1,182.5 898.5,168.2" fill="none" stroke="#000" stroke-width="2.8" stroke-linejoin="miter"/>
<text x="886.5" y="202.5" font-size="9" fill="#9a9a9a" text-anchor="middle" transform="rotate(-90 886.5 202.5)">4</text>
<line x1="918.1" y1="86.5" x2="918.1" y2="115.3" stroke="#ff9a9a" stroke-width="5.9" stroke-linecap="butt"/>
<line x1="918.1" y1="86.5" x2="918.1" y2="115.3" stroke="#800000" stroke-width="3.0" stroke-linecap="butt"/>
<line x1="918.1" y1="115.3" x2="918.1" y2="124.3" stroke="#000" stroke-width="2.8" stroke-linecap="butt"/>
<polyline points="910.7,139.4 918.1,124.3 925.5,139.4" fill="none" stroke="#000" stroke-width="2.8" stroke-linejoin="miter"/>
<text x="913.5" y="104.8" font-size="9" fill="#9a9a9a" text-anchor="middle" transform="rotate(-90 913.5 104.8)">5</text>
<line x1="918.1" y1="192" x2="918.1" y2="221.3" stroke="#7af07a" stroke-width="5.9" stroke-linecap="butt"/>
<line x1="918.1" y1="192" x2="918.1" y2="221.3" stroke="#005a00" stroke-width="3.0" stroke-linecap="butt"/>
<line x1="918.1" y1="182.5" x2="918.1" y2="192" stroke="#000" stroke-width="2.8" stroke-linecap="butt"/>
<polyline points="910.7,168.2 918.1,182.5 925.5,168.2" fill="none" stroke="#000" stroke-width="2.8" stroke-linejoin="miter"/>
<text x="913.5" y="202.5" font-size="9" fill="#9a9a9a" text-anchor="middle" transform="rotate(-90 913.5 202.5)">5</text>
<line x1="945" y1="86.5" x2="945" y2="115.3" stroke="#ff9a9a" stroke-width="5.9" stroke-linecap="butt"/>
<line x1="945" y1="86.5" x2="945" y2="115.3" stroke="#800000" stroke-width="3.0" stroke-linecap="butt"/>
<line x1="945" y1="115.3" x2="945" y2="124.3" stroke="#000" stroke-width="2.8" stroke-linecap="butt"/>
<polyline points="937.6,139.4 945,124.3 952.4,139.4" fill="none" stroke="#000" stroke-width="2.8" stroke-linejoin="miter"/>
<text x="940.4" y="104.8" font-size="9" fill="#9a9a9a" text-anchor="middle" transform="rotate(-90 940.4 104.8)">6</text>
<line x1="945" y1="192" x2="945" y2="221.3" stroke="#7af07a" stroke-width="5.9" stroke-linecap="butt"/>
<line x1="945" y1="192" x2="945" y2="221.3" stroke="#005a00" stroke-width="3.0" stroke-linecap="butt"/>
<line x1="945" y1="182.5" x2="945" y2="192" stroke="#000" stroke-width="2.8" stroke-linecap="butt"/>
<polyline points="937.6,168.2 945,182.5 952.4,168.2" fill="none" stroke="#000" stroke-width="2.8" stroke-linejoin="miter"/>
<text x="940.4" y="202.5" font-size="9" fill="#9a9a9a" text-anchor="middle" transform="rotate(-90 940.4 202.5)">6</text>
<line x1="972" y1="86.5" x2="972" y2="115.3" stroke="#7af07a" stroke-width="5.9" stroke-linecap="butt"/>
<line x1="972" y1="86.5" x2="972" y2="115.3" stroke="#005a00" stroke-width="3.0" stroke-linecap="butt"/>
<line x1="972" y1="115.3" x2="972" y2="124.3" stroke="#000" stroke-width="2.8" stroke-linecap="butt"/>
<polyline points="964.6,139.4 972,124.3 979.4,139.4" fill="none" stroke="#000" stroke-width="2.8" stroke-linejoin="miter"/>
<text x="967.4" y="104.8" font-size="9" fill="#9a9a9a" text-anchor="middle" transform="rotate(-90 967.4 104.8)">7</text>
<line x1="972" y1="192" x2="972" y2="221.3" stroke="#7af07a" stroke-width="5.9" stroke-linecap="butt"/>
<line x1="972" y1="192" x2="972" y2="221.3" stroke="#005a00" stroke-width="3.0" stroke-linecap="butt"/>
<line x1="972" y1="182.5" x2="972" y2="192" stroke="#000" stroke-width="2.8" stroke-linecap="butt"/>
<polyline points="964.6,168.2 972,182.5 979.4,168.2" fill="none" stroke="#000" stroke-width="2.8" stroke-linejoin="miter"/>
<text x="967.4" y="202.5" font-size="9" fill="#9a9a9a" text-anchor="middle" transform="rotate(-90 967.4 202.5)">7</text>
<line x1="998.9" y1="86.5" x2="998.9" y2="115.3" stroke="#7af07a" stroke-width="5.9" stroke-linecap="butt"/>
<line x1="998.9" y1="86.5" x2="998.9" y2="115.3" stroke="#005a00" stroke-width="3.0" stroke-linecap="butt"/>
<line x1="998.9" y1="115.3" x2="998.9" y2="124.3" stroke="#000" stroke-width="2.8" stroke-linecap="butt"/>
<polyline points="991.5,139.4 998.9,124.3 1006.3,139.4" fill="none" stroke="#000" stroke-width="2.8" stroke-linejoin="miter"/>
<text x="994.3" y="104.8" font-size="9" fill="#9a9a9a" text-anchor="middle" transform="rotate(-90 994.3 104.8)">8</text>
<line x1="998.9" y1="192" x2="998.9" y2="221.3" stroke="#7af07a" stroke-width="5.9" stroke-linecap="butt"/>
<line x1="998.9" y1="192" x2="998.9" y2="221.3" stroke="#005a00" stroke-width="3.0" stroke-linecap="butt"/>
<line x1="998.9" y1="182.5" x2="998.9" y2="192" stroke="#000" stroke-width="2.8" stroke-linecap="butt"/>
<polyline points="991.5,168.2 998.9,182.5 1006.3,168.2" fill="none" stroke="#000" stroke-width="2.8" stroke-linejoin="miter"/>
<text x="994.3" y="202.5" font-size="9" fill="#9a9a9a" text-anchor="middle" transform="rotate(-90 994.3 202.5)">8</text>
<line x1="1025.9" y1="86.5" x2="1025.9" y2="115.3" stroke="#ff9a9a" stroke-width="5.9" stroke-linecap="butt"/>
<line x1="1025.9" y1="86.5" x2="1025.9" y2="115.3" stroke="#800000" stroke-width="3.0" stroke-linecap="butt"/>
<line x1="1025.9" y1="115.3" x2="1025.9" y2="124.3" stroke="#000" stroke-width="2.8" stroke-linecap="butt"/>
<polyline points="1018.5,139.4 1025.9,124.3 1033.3,139.4" fill="none" stroke="#000" stroke-width="2.8" stroke-linejoin="miter"/>
<text x="1021.3" y="104.8" font-size="9" fill="#9a9a9a" text-anchor="middle" transform="rotate(-90 1021.3 104.8)">9</text>
<line x1="1025.9" y1="192" x2="1025.9" y2="221.3" stroke="#7af07a" stroke-width="5.9" stroke-linecap="butt"/>
<line x1="1025.9" y1="192" x2="1025.9" y2="221.3" stroke="#005a00" stroke-width="3.0" stroke-linecap="butt"/>
<line x1="1025.9" y1="182.5" x2="1025.9" y2="192" stroke="#000" stroke-width="2.8" stroke-linecap="butt"/>
<polyline points="1018.5,168.2 1025.9,182.5 1033.3,168.2" fill="none" stroke="#000" stroke-width="2.8" stroke-linejoin="miter"/>
<text x="1021.3" y="202.5" font-size="9" fill="#9a9a9a" text-anchor="middle" transform="rotate(-90 1021.3 202.5)">9</text>
<line x1="1052.8" y1="86.5" x2="1052.8" y2="115.3" stroke="#ff9a9a" stroke-width="5.9" stroke-linecap="butt"/>
<line x1="1052.8" y1="86.5" x2="1052.8" y2="115.3" stroke="#800000" stroke-width="3.0" stroke-linecap="butt"/>
<line x1="1052.8" y1="115.3" x2="1052.8" y2="124.3" stroke="#000" stroke-width="2.8" stroke-linecap="butt"/>
<polyline points="1045.4,139.4 1052.8,124.3 1060.2,139.4" fill="none" stroke="#000" stroke-width="2.8" stroke-linejoin="miter"/>
<text x="1048.2" y="104.8" font-size="9" fill="#9a9a9a" text-anchor="middle" transform="rotate(-90 1048.2 104.8)">10</text>
<line x1="1052.8" y1="192" x2="1052.8" y2="221.3" stroke="#7af07a" stroke-width="5.9" stroke-linecap="butt"/>
<line x1="1052.8" y1="192" x2="1052.8" y2="221.3" stroke="#005a00" stroke-width="3.0" stroke-linecap="butt"/>
<line x1="1052.8" y1="182.5" x2="1052.8" y2="192" stroke="#000" stroke-width="2.8" stroke-linecap="butt"/>
<polyline points="1045.4,168.2 1052.8,182.5 1060.2,168.2" fill="none" stroke="#000" stroke-width="2.8" stroke-linejoin="miter"/>
<text x="1048.2" y="202.5" font-size="9" fill="#9a9a9a" text-anchor="middle" transform="rotate(-90 1048.2 202.5)">10</text>
<line x1="1079.8" y1="86.5" x2="1079.8" y2="115.3" stroke="#ff9a9a" stroke-width="5.9" stroke-linecap="butt"/>
<line x1="1079.8" y1="86.5" x2="1079.8" y2="115.3" stroke="#800000" stroke-width="3.0" stroke-linecap="butt"/>
<line x1="1079.8" y1="115.3" x2="1079.8" y2="124.3" stroke="#000" stroke-width="2.8" stroke-linecap="butt"/>
<polyline points="1072.4,139.4 1079.8,124.3 1087.2,139.4" fill="none" stroke="#000" stroke-width="2.8" stroke-linejoin="miter"/>
<text x="1075.2" y="104.8" font-size="9" fill="#9a9a9a" text-anchor="middle" transform="rotate(-90 1075.2 104.8)">11</text>
<line x1="1079.8" y1="192" x2="1079.8" y2="221.3" stroke="#7af07a" stroke-width="5.9" stroke-linecap="butt"/>
<line x1="1079.8" y1="192" x2="1079.8" y2="221.3" stroke="#005a00" stroke-width="3.0" stroke-linecap="butt"/>
<line x1="1079.8" y1="182.5" x2="1079.8" y2="192" stroke="#000" stroke-width="2.8" stroke-linecap="butt"/>
<polyline points="1072.4,168.2 1079.8,182.5 1087.2,168.2" fill="none" stroke="#000" stroke-width="2.8" stroke-linejoin="miter"/>
<text x="1075.2" y="202.5" font-size="9" fill="#9a9a9a" text-anchor="middle" transform="rotate(-90 1075.2 202.5)">11</text>
<line x1="1106.8" y1="86.5" x2="1106.8" y2="115.3" stroke="#ff9a9a" stroke-width="5.9" stroke-linecap="butt"/>
<line x1="1106.8" y1="86.5" x2="1106.8" y2="115.3" stroke="#800000" stroke-width="3.0" stroke-linecap="butt"/>
<line x1="1106.8" y1="115.3" x2="1106.8" y2="124.3" stroke="#000" stroke-width="2.8" stroke-linecap="butt"/>
<polyline points="1099.3,139.4 1106.8,124.3 1114.2,139.4" fill="none" stroke="#000" stroke-width="2.8" stroke-linejoin="miter"/>
<text x="1102.2" y="104.8" font-size="9" fill="#9a9a9a" text-anchor="middle" transform="rotate(-90 1102.2 104.8)">12</text>
<line x1="1106.8" y1="192" x2="1106.8" y2="221.3" stroke="#7af07a" stroke-width="5.9" stroke-linecap="butt"/>
<line x1="1106.8" y1="192" x2="1106.8" y2="221.3" stroke="#005a00" stroke-width="3.0" stroke-linecap="butt"/>
<line x1="1106.8" y1="182.5" x2="1106.8" y2="192" stroke="#000" stroke-width="2.8" stroke-linecap="butt"/>
<polyline points="1099.3,168.2 1106.8,182.5 1114.2,168.2" fill="none" stroke="#000" stroke-width="2.8" stroke-linejoin="miter"/>
<text x="1102.2" y="202.5" font-size="9" fill="#9a9a9a" text-anchor="middle" transform="rotate(-90 1102.2 202.5)">12</text>
<line x1="1133.7" y1="86.5" x2="1133.7" y2="115.3" stroke="#ff9a9a" stroke-width="5.9" stroke-linecap="butt"/>
<line x1="1133.7" y1="86.5" x2="1133.7" y2="115.3" stroke="#800000" stroke-width="3.0" stroke-linecap="butt"/>
<line x1="1133.7" y1="115.3" x2="1133.7" y2="124.3" stroke="#000" stroke-width="2.8" stroke-linecap="butt"/>
<polyline points="1126.3,139.4 1133.7,124.3 1141.1,139.4" fill="none" stroke="#000" stroke-width="2.8" stroke-linejoin="miter"/>
<text x="1129.1" y="104.8" font-size="9" fill="#9a9a9a" text-anchor="middle" transform="rotate(-90 1129.1 104.8)">13</text>
<line x1="1133.7" y1="192" x2="1133.7" y2="221.3" stroke="#7af07a" stroke-width="5.9" stroke-linecap="butt"/>
<line x1="1133.7" y1="192" x2="1133.7" y2="221.3" stroke="#005a00" stroke-width="3.0" stroke-linecap="butt"/>
<line x1="1133.7" y1="182.5" x2="1133.7" y2="192" stroke="#000" stroke-width="2.8" stroke-linecap="butt"/>
<polyline points="1126.3,168.2 1133.7,182.5 1141.1,168.2" fill="none" stroke="#000" stroke-width="2.8" stroke-linejoin="miter"/>
<text x="1129.1" y="202.5" font-size="9" fill="#9a9a9a" text-anchor="middle" transform="rotate(-90 1129.1 202.5)">13</text>
<line x1="1160.6" y1="86.5" x2="1160.6" y2="115.3" stroke="#ff9a9a" stroke-width="5.9" stroke-linecap="butt"/>
<line x1="1160.6" y1="86.5" x2="1160.6" y2="115.3" stroke="#800000" stroke-width="3.0" stroke-linecap="butt"/>
<line x1="1160.6" y1="115.3" x2="1160.6" y2="124.3" stroke="#000" stroke-width="2.8" stroke-linecap="butt"/>
<polyline points="1153.2,139.4 1160.6,124.3 1168,139.4" fill="none" stroke="#000" stroke-width="2.8" stroke-linejoin="miter"/>
<text x="1156" y="104.8" font-size="9" fill="#9a9a9a" text-anchor="middle" transform="rotate(-90 1156 104.8)">14</text>
<line x1="1160.6" y1="192" x2="1160.6" y2="221.3" stroke="#7af07a" stroke-width="5.9" stroke-linecap="butt"/>
<line x1="1160.6" y1="192" x2="1160.6" y2="221.3" stroke="#005a00" stroke-width="3.0" stroke-linecap="butt"/>
<line x1="1160.6" y1="182.5" x2="1160.6" y2="192" stroke="#000" stroke-width="2.8" stroke-linecap="butt"/>
<polyline points="1153.2,168.2 1160.6,182.5 1168,168.2" fill="none" stroke="#000" stroke-width="2.8" stroke-linejoin="miter"/>
<text x="1156" y="202.5" font-size="9" fill="#9a9a9a" text-anchor="middle" transform="rotate(-90 1156 202.5)">14</text>
<line x1="1187.6" y1="86.5" x2="1187.6" y2="115.3" stroke="#7af07a" stroke-width="5.9" stroke-linecap="butt"/>
<line x1="1187.6" y1="86.5" x2="1187.6" y2="115.3" stroke="#005a00" stroke-width="3.0" stroke-linecap="butt"/>
<line x1="1187.6" y1="115.3" x2="1187.6" y2="124.3" stroke="#000" stroke-width="2.8" stroke-linecap="butt"/>
<polyline points="1180.2,139.4 1187.6,124.3 1195,139.4" fill="none" stroke="#000" stroke-width="2.8" stroke-linejoin="miter"/>
<text x="1183" y="104.8" font-size="9" fill="#9a9a9a" text-anchor="middle" transform="rotate(-90 1183 104.8)">15</text>
<line x1="1187.6" y1="192" x2="1187.6" y2="221.3" stroke="#7af07a" stroke-width="5.9" stroke-linecap="butt"/>
<line x1="1187.6" y1="192" x2="1187.6" y2="221.3" stroke="#005a00" stroke-width="3.0" stroke-linecap="butt"/>
<line x1="1187.6" y1="182.5" x2="1187.6" y2="192" stroke="#000" stroke-width="2.8" stroke-linecap="butt"/>
<polyline points="1180.2,168.2 1187.6,182.5 1195,168.2" fill="none" stroke="#000" stroke-width="2.8" stroke-linejoin="miter"/>
<text x="1183" y="202.5" font-size="9" fill="#9a9a9a" text-anchor="middle" transform="rotate(-90 1183 202.5)">15</text>
<text x="789.5" y="159.3" font-size="17" fill="#000" text-anchor="middle" transform="rotate(-90 789.5 159.3)">J2</text>
<text x="1209.6" y="148.3" font-size="17" fill="#000" text-anchor="middle" transform="rotate(90 1209.6 148.3)">J1</text>
<polyline points="433,186.7 450.2,194.3 433,201.9" fill="none" stroke="#000" stroke-width="2.8"/>
<line x1="450" y1="194.3" x2="457" y2="194.3" stroke="#000" stroke-width="2.4" stroke-linecap="butt"/>
<line x1="457" y1="194.3" x2="486.6" y2="194.3" stroke="#8cf08c" stroke-width="5.2" stroke-linecap="butt"/>
<line x1="457" y1="194.3" x2="486.6" y2="194.3" stroke="#0a6e0a" stroke-width="2.7" stroke-linecap="butt"/>
<text x="468" y="207.1" font-size="8" fill="#8c8c8c" text-anchor="middle">1</text>
<polyline points="433,267.6 450.2,275.2 433,282.8" fill="none" stroke="#000" stroke-width="2.8"/>
<line x1="450" y1="275.2" x2="457" y2="275.2" stroke="#000" stroke-width="2.4" stroke-linecap="butt"/>
<line x1="457" y1="275.2" x2="486.6" y2="275.2" stroke="#8cf08c" stroke-width="5.2" stroke-linecap="butt"/>
<line x1="457" y1="275.2" x2="486.6" y2="275.2" stroke="#0a6e0a" stroke-width="2.7" stroke-linecap="butt"/>
<text x="468" y="288" font-size="8" fill="#8c8c8c" text-anchor="middle">1</text>
<text x="386.3" y="197.8" font-size="17" fill="#000" text-anchor="start" textLength="31.5" lengthAdjust="spacingAndGlyphs">+5v</text>
<text x="385.8" y="279" font-size="17" fill="#000" text-anchor="start" textLength="37" lengthAdjust="spacingAndGlyphs">GND</text>
<line x1="1511" y1="86.2" x2="1538.3" y2="86.2" stroke="#9af09a" stroke-width="5.2" stroke-linecap="butt"/>
<line x1="1511" y1="86.2" x2="1538.3" y2="86.2" stroke="#3aaa3a" stroke-width="2.7" stroke-linecap="butt"/>
<polyline points="1538.3,86.2 1541.5,76.8 1548.3,95.7 1555.1,76.8 1561.9,95.7 1568.7,76.8 1575.5,95.7 1582.4,76.8 1589.2,95.7 1592,86.2" fill="none" stroke="#000" stroke-width="1.9" stroke-linejoin="miter"/>
<line x1="1592" y1="86.2" x2="1619.3" y2="86.2" stroke="#9af09a" stroke-width="5.2" stroke-linecap="butt"/>
<line x1="1592" y1="86.2" x2="1619.3" y2="86.2" stroke="#3aaa3a" stroke-width="2.7" stroke-linecap="butt"/>
<text x="1524" y="84" font-size="8" fill="#a0a0a0" text-anchor="middle">1</text>
<text x="1605" y="84" font-size="8" fill="#a0a0a0" text-anchor="middle">2</text>
<text x="1537.3" y="34.7" font-size="17" fill="#000" text-anchor="start">R14</text>
<text x="1537.3" y="53.6" font-size="17" fill="#000" text-anchor="start" textLength="41.4" lengthAdjust="spacingAndGlyphs">220&#937;</text>
<line x1="1915" y1="86.6" x2="1952.5" y2="86.6" stroke="#373737" stroke-width="2.3" stroke-linecap="butt"/>
<line x1="1921" y1="86.6" x2="1944.6" y2="86.6" stroke="#8ae88a" stroke-width="1.4" stroke-linecap="butt"/>
<polyline points="1969,78.6 1952.5,86.6 1969,94.6" fill="none" stroke="#000" stroke-width="2.4"/>
<text x="1934" y="82.1" font-size="8" fill="#8c8c8c" text-anchor="middle">1</text>
<line x1="1915" y1="140.3" x2="1952.5" y2="140.3" stroke="#373737" stroke-width="2.3" stroke-linecap="butt"/>
<line x1="1921" y1="140.3" x2="1944.6" y2="140.3" stroke="#8ae88a" stroke-width="1.4" stroke-linecap="butt"/>
<polyline points="1969,132.3 1952.5,140.3 1969,148.3" fill="none" stroke="#000" stroke-width="2.4"/>
<text x="1934" y="135.8" font-size="8" fill="#8c8c8c" text-anchor="middle">1</text>
<line x1="1952.5" y1="86.6" x2="2022.8" y2="86.6" stroke="#373737" stroke-width="2.3" stroke-linecap="butt"/>
<line x1="2022.8" y1="86.6" x2="2051.3" y2="86.6" stroke="#9af09a" stroke-width="5.2" stroke-linecap="butt"/>
<line x1="2022.8" y1="86.6" x2="2051.3" y2="86.6" stroke="#3aaa3a" stroke-width="2.7" stroke-linecap="butt"/>
<text x="2023" y="99" font-size="8" fill="#8c8c8c" text-anchor="middle">2</text>
<line x1="1952.5" y1="140.3" x2="1996" y2="140.3" stroke="#373737" stroke-width="2.3" stroke-linecap="butt"/>
<line x1="1996" y1="140.3" x2="2051.3" y2="140.3" stroke="#9af09a" stroke-width="5.2" stroke-linecap="butt"/>
<line x1="1996" y1="140.3" x2="2051.3" y2="140.3" stroke="#3aaa3a" stroke-width="2.7" stroke-linecap="butt"/>
<text x="2023" y="158" font-size="8" fill="#8c8c8c" text-anchor="middle">1</text>
<circle cx="1915" cy="86.6" r="5.1" fill="#373737"/>
<circle cx="1915" cy="140.3" r="5.1" fill="#373737"/>
<rect x="2050.5" y="59.7" width="80.3" height="107.5" fill="none" stroke="#000" stroke-width="3"/>
<polyline points="2130.8,59.7 2185,6 2185,221.5 2130.8,167.2" fill="none" stroke="#000" stroke-width="3"/>
<text x="2058" y="121.3" font-size="14" fill="#000" text-anchor="start" textLength="64.4" lengthAdjust="spacingAndGlyphs">SPEAKER</text>
<text x="2062.6" y="147.3" font-size="11.5" fill="#8c8c8c" text-anchor="middle">+</text>
<text x="2061.5" y="143" font-size="6" fill="#a0a0a0" text-anchor="middle">1</text>
<line x1="2186.3" y1="0" x2="2186.3" y2="1428" stroke="#000" stroke-width="1.3" stroke-linecap="butt"/>
<line x1="648.4" y1="544.6" x2="673.9" y2="544.6" stroke="#8cf08c" stroke-width="5.2" stroke-linecap="butt"/>
<line x1="648.4" y1="544.6" x2="673.9" y2="544.6" stroke="#2a8a2a" stroke-width="2.7" stroke-linecap="butt"/>
<line x1="648.4" y1="598.4" x2="673.9" y2="598.4" stroke="#8cf08c" stroke-width="5.2" stroke-linecap="butt"/>
<line x1="648.4" y1="598.4" x2="673.9" y2="598.4" stroke="#2a8a2a" stroke-width="2.7" stroke-linecap="butt"/>
<line x1="727.9" y1="544.6" x2="753.9" y2="544.6" stroke="#8cf08c" stroke-width="5.2" stroke-linecap="butt"/>
<line x1="727.9" y1="544.6" x2="753.9" y2="544.6" stroke="#2a8a2a" stroke-width="2.7" stroke-linecap="butt"/>
<line x1="727.9" y1="598.4" x2="753.9" y2="598.4" stroke="#8cf08c" stroke-width="5.2" stroke-linecap="butt"/>
<line x1="727.9" y1="598.4" x2="753.9" y2="598.4" stroke="#2a8a2a" stroke-width="2.7" stroke-linecap="butt"/>
<line x1="673.9" y1="543.3" x2="673.9" y2="599.7" stroke="#000" stroke-width="2.6" stroke-linecap="butt"/>
<line x1="727.9" y1="543.3" x2="727.9" y2="599.7" stroke="#000" stroke-width="2.6" stroke-linecap="butt"/>
<line x1="673.9" y1="571.9" x2="721.4" y2="558.1" stroke="#000" stroke-width="2.6" stroke-linecap="butt"/>
<line x1="719.9" y1="571.9" x2="727.9" y2="571.9" stroke="#000" stroke-width="2.6" stroke-linecap="butt"/>
<circle cx="673.9" cy="571.9" r="2.6" fill="#000"/>
<circle cx="727.9" cy="571.9" r="2.6" fill="#000"/>
<text x="659.2" y="540" font-size="7.5" fill="#8c8c8c" text-anchor="middle">1</text>
<text x="741" y="540" font-size="7.5" fill="#8c8c8c" text-anchor="middle">2</text>
<text x="659.2" y="593.8" font-size="7.5" fill="#8c8c8c" text-anchor="middle">1</text>
<text x="741" y="593.8" font-size="7.5" fill="#8c8c8c" text-anchor="middle">2</text>
<text x="754.8" y="521.2" font-size="17" fill="#000" text-anchor="start">S9</text>
<circle cx="648.4" cy="544.6" r="5.3" fill="#373737"/>
<circle cx="648.4" cy="598.4" r="5.3" fill="#373737"/>
<circle cx="755.9" cy="598.4" r="2.8" fill="#373737"/>
<line x1="810.1" y1="544.6" x2="835.6" y2="544.6" stroke="#8cf08c" stroke-width="5.2" stroke-linecap="butt"/>
<line x1="810.1" y1="544.6" x2="835.6" y2="544.6" stroke="#2a8a2a" stroke-width="2.7" stroke-linecap="butt"/>
<line x1="810.1" y1="598.4" x2="835.6" y2="598.4" stroke="#8cf08c" stroke-width="5.2" stroke-linecap="butt"/>
<line x1="810.1" y1="598.4" x2="835.6" y2="598.4" stroke="#2a8a2a" stroke-width="2.7" stroke-linecap="butt"/>
<line x1="889.6" y1="544.6" x2="915.6" y2="544.6" stroke="#8cf08c" stroke-width="5.2" stroke-linecap="butt"/>
<line x1="889.6" y1="544.6" x2="915.6" y2="544.6" stroke="#2a8a2a" stroke-width="2.7" stroke-linecap="butt"/>
<line x1="889.6" y1="598.4" x2="915.6" y2="598.4" stroke="#8cf08c" stroke-width="5.2" stroke-linecap="butt"/>
<line x1="889.6" y1="598.4" x2="915.6" y2="598.4" stroke="#2a8a2a" stroke-width="2.7" stroke-linecap="butt"/>
<line x1="835.6" y1="543.3" x2="835.6" y2="599.7" stroke="#000" stroke-width="2.6" stroke-linecap="butt"/>
<line x1="889.6" y1="543.3" x2="889.6" y2="599.7" stroke="#000" stroke-width="2.6" stroke-linecap="butt"/>
<line x1="835.6" y1="571.9" x2="883.1" y2="558.1" stroke="#000" stroke-width="2.6" stroke-linecap="butt"/>
<line x1="881.6" y1="571.9" x2="889.6" y2="571.9" stroke="#000" stroke-width="2.6" stroke-linecap="butt"/>
<circle cx="835.6" cy="571.9" r="2.6" fill="#000"/>
<circle cx="889.6" cy="571.9" r="2.6" fill="#000"/>
<text x="820.9" y="540" font-size="7.5" fill="#8c8c8c" text-anchor="middle">1</text>
<text x="902.7" y="540" font-size="7.5" fill="#8c8c8c" text-anchor="middle">2</text>
<text x="820.9" y="593.8" font-size="7.5" fill="#8c8c8c" text-anchor="middle">1</text>
<text x="902.7" y="593.8" font-size="7.5" fill="#8c8c8c" text-anchor="middle">2</text>
<text x="917.2" y="521.2" font-size="17" fill="#000" text-anchor="start">S10</text>
<circle cx="810.1" cy="598.4" r="5.3" fill="#373737"/>
<circle cx="917.6" cy="598.4" r="2.8" fill="#373737"/>
<line x1="1133.5" y1="544.6" x2="1159" y2="544.6" stroke="#8cf08c" stroke-width="5.2" stroke-linecap="butt"/>
<line x1="1133.5" y1="544.6" x2="1159" y2="544.6" stroke="#2a8a2a" stroke-width="2.7" stroke-linecap="butt"/>
<line x1="1133.5" y1="598.4" x2="1159" y2="598.4" stroke="#8cf08c" stroke-width="5.2" stroke-linecap="butt"/>
<line x1="1133.5" y1="598.4" x2="1159" y2="598.4" stroke="#2a8a2a" stroke-width="2.7" stroke-linecap="butt"/>
<line x1="1213" y1="544.6" x2="1239" y2="544.6" stroke="#8cf08c" stroke-width="5.2" stroke-linecap="butt"/>
<line x1="1213" y1="544.6" x2="1239" y2="544.6" stroke="#2a8a2a" stroke-width="2.7" stroke-linecap="butt"/>
<line x1="1213" y1="598.4" x2="1239" y2="598.4" stroke="#8cf08c" stroke-width="5.2" stroke-linecap="butt"/>
<line x1="1213" y1="598.4" x2="1239" y2="598.4" stroke="#2a8a2a" stroke-width="2.7" stroke-linecap="butt"/>
<line x1="1159" y1="543.3" x2="1159" y2="599.7" stroke="#000" stroke-width="2.6" stroke-linecap="butt"/>
<line x1="1213" y1="543.3" x2="1213" y2="599.7" stroke="#000" stroke-width="2.6" stroke-linecap="butt"/>
<line x1="1159" y1="571.9" x2="1206.5" y2="558.1" stroke="#000" stroke-width="2.6" stroke-linecap="butt"/>
<line x1="1205" y1="571.9" x2="1213" y2="571.9" stroke="#000" stroke-width="2.6" stroke-linecap="butt"/>
<circle cx="1159" cy="571.9" r="2.6" fill="#000"/>
<circle cx="1213" cy="571.9" r="2.6" fill="#000"/>
<text x="1144.3" y="540" font-size="7.5" fill="#8c8c8c" text-anchor="middle">1</text>
<text x="1226.1" y="540" font-size="7.5" fill="#8c8c8c" text-anchor="middle">2</text>
<text x="1144.3" y="593.8" font-size="7.5" fill="#8c8c8c" text-anchor="middle">1</text>
<text x="1226.1" y="593.8" font-size="7.5" fill="#8c8c8c" text-anchor="middle">2</text>
<text x="1240.3" y="521.2" font-size="17" fill="#000" text-anchor="start">S11</text>
<circle cx="1133.5" cy="598.4" r="5.3" fill="#373737"/>
<circle cx="1241" cy="598.4" r="2.8" fill="#373737"/>
<line x1="1295.2" y1="544.6" x2="1320.7" y2="544.6" stroke="#8cf08c" stroke-width="5.2" stroke-linecap="butt"/>
<line x1="1295.2" y1="544.6" x2="1320.7" y2="544.6" stroke="#2a8a2a" stroke-width="2.7" stroke-linecap="butt"/>
<line x1="1295.2" y1="598.4" x2="1320.7" y2="598.4" stroke="#8cf08c" stroke-width="5.2" stroke-linecap="butt"/>
<line x1="1295.2" y1="598.4" x2="1320.7" y2="598.4" stroke="#2a8a2a" stroke-width="2.7" stroke-linecap="butt"/>
<line x1="1374.7" y1="544.6" x2="1400.7" y2="544.6" stroke="#8cf08c" stroke-width="5.2" stroke-linecap="butt"/>
<line x1="1374.7" y1="544.6" x2="1400.7" y2="544.6" stroke="#2a8a2a" stroke-width="2.7" stroke-linecap="butt"/>
<line x1="1374.7" y1="598.4" x2="1400.7" y2="598.4" stroke="#8cf08c" stroke-width="5.2" stroke-linecap="butt"/>
<line x1="1374.7" y1="598.4" x2="1400.7" y2="598.4" stroke="#2a8a2a" stroke-width="2.7" stroke-linecap="butt"/>
<line x1="1320.7" y1="543.3" x2="1320.7" y2="599.7" stroke="#000" stroke-width="2.6" stroke-linecap="butt"/>
<line x1="1374.7" y1="543.3" x2="1374.7" y2="599.7" stroke="#000" stroke-width="2.6" stroke-linecap="butt"/>
<line x1="1320.7" y1="571.9" x2="1368.2" y2="558.1" stroke="#000" stroke-width="2.6" stroke-linecap="butt"/>
<line x1="1366.7" y1="571.9" x2="1374.7" y2="571.9" stroke="#000" stroke-width="2.6" stroke-linecap="butt"/>
<circle cx="1320.7" cy="571.9" r="2.6" fill="#000"/>
<circle cx="1374.7" cy="571.9" r="2.6" fill="#000"/>
<text x="1306" y="540" font-size="7.5" fill="#8c8c8c" text-anchor="middle">1</text>
<text x="1387.8" y="540" font-size="7.5" fill="#8c8c8c" text-anchor="middle">2</text>
<text x="1306" y="593.8" font-size="7.5" fill="#8c8c8c" text-anchor="middle">1</text>
<text x="1387.8" y="593.8" font-size="7.5" fill="#8c8c8c" text-anchor="middle">2</text>
<text x="1402" y="521.2" font-size="17" fill="#000" text-anchor="start">S13</text>
<circle cx="1295.2" cy="598.4" r="5.3" fill="#373737"/>
<circle cx="1402.7" cy="598.4" r="2.8" fill="#373737"/>
<line x1="1456.9" y1="544.6" x2="1482.4" y2="544.6" stroke="#8cf08c" stroke-width="5.2" stroke-linecap="butt"/>
<line x1="1456.9" y1="544.6" x2="1482.4" y2="544.6" stroke="#2a8a2a" stroke-width="2.7" stroke-linecap="butt"/>
<line x1="1456.9" y1="598.4" x2="1482.4" y2="598.4" stroke="#8cf08c" stroke-width="5.2" stroke-linecap="butt"/>
<line x1="1456.9" y1="598.4" x2="1482.4" y2="598.4" stroke="#2a8a2a" stroke-width="2.7" stroke-linecap="butt"/>
<line x1="1536.4" y1="544.6" x2="1562.4" y2="544.6" stroke="#8cf08c" stroke-width="5.2" stroke-linecap="butt"/>
<line x1="1536.4" y1="544.6" x2="1562.4" y2="544.6" stroke="#2a8a2a" stroke-width="2.7" stroke-linecap="butt"/>
<line x1="1536.4" y1="598.4" x2="1562.4" y2="598.4" stroke="#8cf08c" stroke-width="5.2" stroke-linecap="butt"/>
<line x1="1536.4" y1="598.4" x2="1562.4" y2="598.4" stroke="#2a8a2a" stroke-width="2.7" stroke-linecap="butt"/>
<line x1="1482.4" y1="543.3" x2="1482.4" y2="599.7" stroke="#000" stroke-width="2.6" stroke-linecap="butt"/>
<line x1="1536.4" y1="543.3" x2="1536.4" y2="599.7" stroke="#000" stroke-width="2.6" stroke-linecap="butt"/>
<line x1="1482.4" y1="571.9" x2="1529.9" y2="558.1" stroke="#000" stroke-width="2.6" stroke-linecap="butt"/>
<line x1="1528.4" y1="571.9" x2="1536.4" y2="571.9" stroke="#000" stroke-width="2.6" stroke-linecap="butt"/>
<circle cx="1482.4" cy="571.9" r="2.6" fill="#000"/>
<circle cx="1536.4" cy="571.9" r="2.6" fill="#000"/>
<text x="1467.7" y="540" font-size="7.5" fill="#8c8c8c" text-anchor="middle">1</text>
<text x="1549.5" y="540" font-size="7.5" fill="#8c8c8c" text-anchor="middle">2</text>
<text x="1467.7" y="593.8" font-size="7.5" fill="#8c8c8c" text-anchor="middle">1</text>
<text x="1549.5" y="593.8" font-size="7.5" fill="#8c8c8c" text-anchor="middle">2</text>
<text x="1563.7" y="521.2" font-size="17" fill="#000" text-anchor="start">S12</text>
<circle cx="1564.4" cy="598.4" r="2.8" fill="#373737"/>
<line x1="567.1" y1="1084" x2="592.6" y2="1084" stroke="#8cf08c" stroke-width="5.2" stroke-linecap="butt"/>
<line x1="567.1" y1="1084" x2="592.6" y2="1084" stroke="#2a8a2a" stroke-width="2.7" stroke-linecap="butt"/>
<line x1="567.1" y1="1138" x2="592.6" y2="1138" stroke="#8cf08c" stroke-width="5.2" stroke-linecap="butt"/>
<line x1="567.1" y1="1138" x2="592.6" y2="1138" stroke="#2a8a2a" stroke-width="2.7" stroke-linecap="butt"/>
<line x1="646.6" y1="1084" x2="672.6" y2="1084" stroke="#8cf08c" stroke-width="5.2" stroke-linecap="butt"/>
<line x1="646.6" y1="1084" x2="672.6" y2="1084" stroke="#2a8a2a" stroke-width="2.7" stroke-linecap="butt"/>
<line x1="646.6" y1="1138" x2="672.6" y2="1138" stroke="#8cf08c" stroke-width="5.2" stroke-linecap="butt"/>
<line x1="646.6" y1="1138" x2="672.6" y2="1138" stroke="#2a8a2a" stroke-width="2.7" stroke-linecap="butt"/>
<line x1="592.6" y1="1082.7" x2="592.6" y2="1139.3" stroke="#000" stroke-width="2.6" stroke-linecap="butt"/>
<line x1="646.6" y1="1082.7" x2="646.6" y2="1139.3" stroke="#000" stroke-width="2.6" stroke-linecap="butt"/>
<line x1="592.6" y1="1111.3" x2="640.1" y2="1097.5" stroke="#000" stroke-width="2.6" stroke-linecap="butt"/>
<line x1="638.6" y1="1111.3" x2="646.6" y2="1111.3" stroke="#000" stroke-width="2.6" stroke-linecap="butt"/>
<circle cx="592.6" cy="1111.3" r="2.6" fill="#000"/>
<circle cx="646.6" cy="1111.3" r="2.6" fill="#000"/>
<text x="577.9" y="1079.4" font-size="7.5" fill="#8c8c8c" text-anchor="middle">1</text>
<text x="659.7" y="1079.4" font-size="7.5" fill="#8c8c8c" text-anchor="middle">2</text>
<text x="577.9" y="1133.4" font-size="7.5" fill="#8c8c8c" text-anchor="middle">1</text>
<text x="659.7" y="1133.4" font-size="7.5" fill="#8c8c8c" text-anchor="middle">2</text>
<text x="673.6" y="1061" font-size="17" fill="#000" text-anchor="start">S2</text>
<circle cx="674.6" cy="1138" r="2.8" fill="#373737"/>
<line x1="728.8" y1="1084" x2="754.3" y2="1084" stroke="#8cf08c" stroke-width="5.2" stroke-linecap="butt"/>
<line x1="728.8" y1="1084" x2="754.3" y2="1084" stroke="#2a8a2a" stroke-width="2.7" stroke-linecap="butt"/>
<line x1="728.8" y1="1138" x2="754.3" y2="1138" stroke="#8cf08c" stroke-width="5.2" stroke-linecap="butt"/>
<line x1="728.8" y1="1138" x2="754.3" y2="1138" stroke="#2a8a2a" stroke-width="2.7" stroke-linecap="butt"/>
<line x1="808.3" y1="1084" x2="834.3" y2="1084" stroke="#8cf08c" stroke-width="5.2" stroke-linecap="butt"/>
<line x1="808.3" y1="1084" x2="834.3" y2="1084" stroke="#2a8a2a" stroke-width="2.7" stroke-linecap="butt"/>
<line x1="808.3" y1="1138" x2="834.3" y2="1138" stroke="#8cf08c" stroke-width="5.2" stroke-linecap="butt"/>
<line x1="808.3" y1="1138" x2="834.3" y2="1138" stroke="#2a8a2a" stroke-width="2.7" stroke-linecap="butt"/>
<line x1="754.3" y1="1082.7" x2="754.3" y2="1139.3" stroke="#000" stroke-width="2.6" stroke-linecap="butt"/>
<line x1="808.3" y1="1082.7" x2="808.3" y2="1139.3" stroke="#000" stroke-width="2.6" stroke-linecap="butt"/>
<line x1="754.3" y1="1111.3" x2="801.8" y2="1097.5" stroke="#000" stroke-width="2.6" stroke-linecap="butt"/>
<line x1="800.3" y1="1111.3" x2="808.3" y2="1111.3" stroke="#000" stroke-width="2.6" stroke-linecap="butt"/>
<circle cx="754.3" cy="1111.3" r="2.6" fill="#000"/>
<circle cx="808.3" cy="1111.3" r="2.6" fill="#000"/>
<text x="739.6" y="1079.4" font-size="7.5" fill="#8c8c8c" text-anchor="middle">1</text>
<text x="821.4" y="1079.4" font-size="7.5" fill="#8c8c8c" text-anchor="middle">2</text>
<text x="739.6" y="1133.4" font-size="7.5" fill="#8c8c8c" text-anchor="middle">1</text>
<text x="821.4" y="1133.4" font-size="7.5" fill="#8c8c8c" text-anchor="middle">2</text>
<text x="835.3" y="1061" font-size="17" fill="#000" text-anchor="start">S3</text>
<circle cx="834.3" cy="1138" r="5.3" fill="#373737"/>
<line x1="890.5" y1="1084" x2="916" y2="1084" stroke="#8cf08c" stroke-width="5.2" stroke-linecap="butt"/>
<line x1="890.5" y1="1084" x2="916" y2="1084" stroke="#2a8a2a" stroke-width="2.7" stroke-linecap="butt"/>
<line x1="890.5" y1="1138" x2="916" y2="1138" stroke="#8cf08c" stroke-width="5.2" stroke-linecap="butt"/>
<line x1="890.5" y1="1138" x2="916" y2="1138" stroke="#2a8a2a" stroke-width="2.7" stroke-linecap="butt"/>
<line x1="970" y1="1084" x2="996" y2="1084" stroke="#8cf08c" stroke-width="5.2" stroke-linecap="butt"/>
<line x1="970" y1="1084" x2="996" y2="1084" stroke="#2a8a2a" stroke-width="2.7" stroke-linecap="butt"/>
<line x1="970" y1="1138" x2="996" y2="1138" stroke="#8cf08c" stroke-width="5.2" stroke-linecap="butt"/>
<line x1="970" y1="1138" x2="996" y2="1138" stroke="#2a8a2a" stroke-width="2.7" stroke-linecap="butt"/>
<line x1="916" y1="1082.7" x2="916" y2="1139.3" stroke="#000" stroke-width="2.6" stroke-linecap="butt"/>
<line x1="970" y1="1082.7" x2="970" y2="1139.3" stroke="#000" stroke-width="2.6" stroke-linecap="butt"/>
<line x1="916" y1="1111.3" x2="963.5" y2="1097.5" stroke="#000" stroke-width="2.6" stroke-linecap="butt"/>
<line x1="962" y1="1111.3" x2="970" y2="1111.3" stroke="#000" stroke-width="2.6" stroke-linecap="butt"/>
<circle cx="916" cy="1111.3" r="2.6" fill="#000"/>
<circle cx="970" cy="1111.3" r="2.6" fill="#000"/>
<text x="901.3" y="1079.4" font-size="7.5" fill="#8c8c8c" text-anchor="middle">1</text>
<text x="983.1" y="1079.4" font-size="7.5" fill="#8c8c8c" text-anchor="middle">2</text>
<text x="901.3" y="1133.4" font-size="7.5" fill="#8c8c8c" text-anchor="middle">1</text>
<text x="983.1" y="1133.4" font-size="7.5" fill="#8c8c8c" text-anchor="middle">2</text>
<text x="997" y="1061" font-size="17" fill="#000" text-anchor="start">S4</text>
<circle cx="996" cy="1138" r="5.3" fill="#373737"/>
<line x1="1052.6" y1="1084" x2="1078.1" y2="1084" stroke="#8cf08c" stroke-width="5.2" stroke-linecap="butt"/>
<line x1="1052.6" y1="1084" x2="1078.1" y2="1084" stroke="#2a8a2a" stroke-width="2.7" stroke-linecap="butt"/>
<line x1="1052.6" y1="1138" x2="1078.1" y2="1138" stroke="#8cf08c" stroke-width="5.2" stroke-linecap="butt"/>
<line x1="1052.6" y1="1138" x2="1078.1" y2="1138" stroke="#2a8a2a" stroke-width="2.7" stroke-linecap="butt"/>
<line x1="1132.1" y1="1084" x2="1158.1" y2="1084" stroke="#8cf08c" stroke-width="5.2" stroke-linecap="butt"/>
<line x1="1132.1" y1="1084" x2="1158.1" y2="1084" stroke="#2a8a2a" stroke-width="2.7" stroke-linecap="butt"/>
<line x1="1132.1" y1="1138" x2="1158.1" y2="1138" stroke="#8cf08c" stroke-width="5.2" stroke-linecap="butt"/>
<line x1="1132.1" y1="1138" x2="1158.1" y2="1138" stroke="#2a8a2a" stroke-width="2.7" stroke-linecap="butt"/>
<line x1="1078.1" y1="1082.7" x2="1078.1" y2="1139.3" stroke="#000" stroke-width="2.6" stroke-linecap="butt"/>
<line x1="1132.1" y1="1082.7" x2="1132.1" y2="1139.3" stroke="#000" stroke-width="2.6" stroke-linecap="butt"/>
<line x1="1078.1" y1="1111.3" x2="1125.6" y2="1097.5" stroke="#000" stroke-width="2.6" stroke-linecap="butt"/>
<line x1="1124.1" y1="1111.3" x2="1132.1" y2="1111.3" stroke="#000" stroke-width="2.6" stroke-linecap="butt"/>
<circle cx="1078.1" cy="1111.3" r="2.6" fill="#000"/>
<circle cx="1132.1" cy="1111.3" r="2.6" fill="#000"/>
<text x="1063.4" y="1079.4" font-size="7.5" fill="#8c8c8c" text-anchor="middle">1</text>
<text x="1145.2" y="1079.4" font-size="7.5" fill="#8c8c8c" text-anchor="middle">2</text>
<text x="1063.4" y="1133.4" font-size="7.5" fill="#8c8c8c" text-anchor="middle">1</text>
<text x="1145.2" y="1133.4" font-size="7.5" fill="#8c8c8c" text-anchor="middle">2</text>
<text x="1159.1" y="1061" font-size="17" fill="#000" text-anchor="start">S5</text>
<circle cx="1158.1" cy="1138" r="5.3" fill="#373737"/>
<line x1="1214.1" y1="1084" x2="1239.6" y2="1084" stroke="#8cf08c" stroke-width="5.2" stroke-linecap="butt"/>
<line x1="1214.1" y1="1084" x2="1239.6" y2="1084" stroke="#2a8a2a" stroke-width="2.7" stroke-linecap="butt"/>
<line x1="1214.1" y1="1138" x2="1239.6" y2="1138" stroke="#8cf08c" stroke-width="5.2" stroke-linecap="butt"/>
<line x1="1214.1" y1="1138" x2="1239.6" y2="1138" stroke="#2a8a2a" stroke-width="2.7" stroke-linecap="butt"/>
<line x1="1293.6" y1="1084" x2="1319.6" y2="1084" stroke="#8cf08c" stroke-width="5.2" stroke-linecap="butt"/>
<line x1="1293.6" y1="1084" x2="1319.6" y2="1084" stroke="#2a8a2a" stroke-width="2.7" stroke-linecap="butt"/>
<line x1="1293.6" y1="1138" x2="1319.6" y2="1138" stroke="#8cf08c" stroke-width="5.2" stroke-linecap="butt"/>
<line x1="1293.6" y1="1138" x2="1319.6" y2="1138" stroke="#2a8a2a" stroke-width="2.7" stroke-linecap="butt"/>
<line x1="1239.6" y1="1082.7" x2="1239.6" y2="1139.3" stroke="#000" stroke-width="2.6" stroke-linecap="butt"/>
<line x1="1293.6" y1="1082.7" x2="1293.6" y2="1139.3" stroke="#000" stroke-width="2.6" stroke-linecap="butt"/>
<line x1="1239.6" y1="1111.3" x2="1287.1" y2="1097.5" stroke="#000" stroke-width="2.6" stroke-linecap="butt"/>
<line x1="1285.6" y1="1111.3" x2="1293.6" y2="1111.3" stroke="#000" stroke-width="2.6" stroke-linecap="butt"/>
<circle cx="1239.6" cy="1111.3" r="2.6" fill="#000"/>
<circle cx="1293.6" cy="1111.3" r="2.6" fill="#000"/>
<text x="1224.9" y="1079.4" font-size="7.5" fill="#8c8c8c" text-anchor="middle">1</text>
<text x="1306.7" y="1079.4" font-size="7.5" fill="#8c8c8c" text-anchor="middle">2</text>
<text x="1224.9" y="1133.4" font-size="7.5" fill="#8c8c8c" text-anchor="middle">1</text>
<text x="1306.7" y="1133.4" font-size="7.5" fill="#8c8c8c" text-anchor="middle">2</text>
<text x="1320.6" y="1061" font-size="17" fill="#000" text-anchor="start">S6</text>
<circle cx="1319.6" cy="1138" r="5.3" fill="#373737"/>
<line x1="1376.2" y1="1084" x2="1401.7" y2="1084" stroke="#8cf08c" stroke-width="5.2" stroke-linecap="butt"/>
<line x1="1376.2" y1="1084" x2="1401.7" y2="1084" stroke="#2a8a2a" stroke-width="2.7" stroke-linecap="butt"/>
<line x1="1376.2" y1="1138" x2="1401.7" y2="1138" stroke="#8cf08c" stroke-width="5.2" stroke-linecap="butt"/>
<line x1="1376.2" y1="1138" x2="1401.7" y2="1138" stroke="#2a8a2a" stroke-width="2.7" stroke-linecap="butt"/>
<line x1="1455.7" y1="1084" x2="1481.7" y2="1084" stroke="#8cf08c" stroke-width="5.2" stroke-linecap="butt"/>
<line x1="1455.7" y1="1084" x2="1481.7" y2="1084" stroke="#2a8a2a" stroke-width="2.7" stroke-linecap="butt"/>
<line x1="1455.7" y1="1138" x2="1481.7" y2="1138" stroke="#8cf08c" stroke-width="5.2" stroke-linecap="butt"/>
<line x1="1455.7" y1="1138" x2="1481.7" y2="1138" stroke="#2a8a2a" stroke-width="2.7" stroke-linecap="butt"/>
<line x1="1401.7" y1="1082.7" x2="1401.7" y2="1139.3" stroke="#000" stroke-width="2.6" stroke-linecap="butt"/>
<line x1="1455.7" y1="1082.7" x2="1455.7" y2="1139.3" stroke="#000" stroke-width="2.6" stroke-linecap="butt"/>
<line x1="1401.7" y1="1111.3" x2="1449.2" y2="1097.5" stroke="#000" stroke-width="2.6" stroke-linecap="butt"/>
<line x1="1447.7" y1="1111.3" x2="1455.7" y2="1111.3" stroke="#000" stroke-width="2.6" stroke-linecap="butt"/>
<circle cx="1401.7" cy="1111.3" r="2.6" fill="#000"/>
<circle cx="1455.7" cy="1111.3" r="2.6" fill="#000"/>
<text x="1387" y="1079.4" font-size="7.5" fill="#8c8c8c" text-anchor="middle">1</text>
<text x="1468.8" y="1079.4" font-size="7.5" fill="#8c8c8c" text-anchor="middle">2</text>
<text x="1387" y="1133.4" font-size="7.5" fill="#8c8c8c" text-anchor="middle">1</text>
<text x="1468.8" y="1133.4" font-size="7.5" fill="#8c8c8c" text-anchor="middle">2</text>
<text x="1482.7" y="1061" font-size="17" fill="#000" text-anchor="start">S7</text>
<circle cx="1481.7" cy="1138" r="5.3" fill="#373737"/>
<line x1="1537.9" y1="1084" x2="1563.4" y2="1084" stroke="#8cf08c" stroke-width="5.2" stroke-linecap="butt"/>
<line x1="1537.9" y1="1084" x2="1563.4" y2="1084" stroke="#2a8a2a" stroke-width="2.7" stroke-linecap="butt"/>
<line x1="1537.9" y1="1138" x2="1563.4" y2="1138" stroke="#8cf08c" stroke-width="5.2" stroke-linecap="butt"/>
<line x1="1537.9" y1="1138" x2="1563.4" y2="1138" stroke="#2a8a2a" stroke-width="2.7" stroke-linecap="butt"/>
<line x1="1617.4" y1="1084" x2="1643.4" y2="1084" stroke="#8cf08c" stroke-width="5.2" stroke-linecap="butt"/>
<line x1="1617.4" y1="1084" x2="1643.4" y2="1084" stroke="#2a8a2a" stroke-width="2.7" stroke-linecap="butt"/>
<line x1="1617.4" y1="1138" x2="1643.4" y2="1138" stroke="#8cf08c" stroke-width="5.2" stroke-linecap="butt"/>
<line x1="1617.4" y1="1138" x2="1643.4" y2="1138" stroke="#2a8a2a" stroke-width="2.7" stroke-linecap="butt"/>
<line x1="1563.4" y1="1082.7" x2="1563.4" y2="1139.3" stroke="#000" stroke-width="2.6" stroke-linecap="butt"/>
<line x1="1617.4" y1="1082.7" x2="1617.4" y2="1139.3" stroke="#000" stroke-width="2.6" stroke-linecap="butt"/>
<line x1="1563.4" y1="1111.3" x2="1610.9" y2="1097.5" stroke="#000" stroke-width="2.6" stroke-linecap="butt"/>
<line x1="1609.4" y1="1111.3" x2="1617.4" y2="1111.3" stroke="#000" stroke-width="2.6" stroke-linecap="butt"/>
<circle cx="1563.4" cy="1111.3" r="2.6" fill="#000"/>
<circle cx="1617.4" cy="1111.3" r="2.6" fill="#000"/>
<text x="1548.7" y="1079.4" font-size="7.5" fill="#8c8c8c" text-anchor="middle">1</text>
<text x="1630.5" y="1079.4" font-size="7.5" fill="#8c8c8c" text-anchor="middle">2</text>
<text x="1548.7" y="1133.4" font-size="7.5" fill="#8c8c8c" text-anchor="middle">1</text>
<text x="1630.5" y="1133.4" font-size="7.5" fill="#8c8c8c" text-anchor="middle">2</text>
<text x="1644.4" y="1061" font-size="17" fill="#000" text-anchor="start">S8</text>
<circle cx="1643.4" cy="1138" r="5.3" fill="#373737"/>
<line x1="1699.6" y1="1084" x2="1725.1" y2="1084" stroke="#8cf08c" stroke-width="5.2" stroke-linecap="butt"/>
<line x1="1699.6" y1="1084" x2="1725.1" y2="1084" stroke="#2a8a2a" stroke-width="2.7" stroke-linecap="butt"/>
<line x1="1699.6" y1="1138" x2="1725.1" y2="1138" stroke="#8cf08c" stroke-width="5.2" stroke-linecap="butt"/>
<line x1="1699.6" y1="1138" x2="1725.1" y2="1138" stroke="#2a8a2a" stroke-width="2.7" stroke-linecap="butt"/>
<line x1="1779.1" y1="1084" x2="1805.1" y2="1084" stroke="#8cf08c" stroke-width="5.2" stroke-linecap="butt"/>
<line x1="1779.1" y1="1084" x2="1805.1" y2="1084" stroke="#2a8a2a" stroke-width="2.7" stroke-linecap="butt"/>
<line x1="1779.1" y1="1138" x2="1805.1" y2="1138" stroke="#8cf08c" stroke-width="5.2" stroke-linecap="butt"/>
<line x1="1779.1" y1="1138" x2="1805.1" y2="1138" stroke="#2a8a2a" stroke-width="2.7" stroke-linecap="butt"/>
<line x1="1725.1" y1="1082.7" x2="1725.1" y2="1139.3" stroke="#000" stroke-width="2.6" stroke-linecap="butt"/>
<line x1="1779.1" y1="1082.7" x2="1779.1" y2="1139.3" stroke="#000" stroke-width="2.6" stroke-linecap="butt"/>
<line x1="1725.1" y1="1111.3" x2="1772.6" y2="1097.5" stroke="#000" stroke-width="2.6" stroke-linecap="butt"/>
<line x1="1771.1" y1="1111.3" x2="1779.1" y2="1111.3" stroke="#000" stroke-width="2.6" stroke-linecap="butt"/>
<circle cx="1725.1" cy="1111.3" r="2.6" fill="#000"/>
<circle cx="1779.1" cy="1111.3" r="2.6" fill="#000"/>
<text x="1710.4" y="1079.4" font-size="7.5" fill="#8c8c8c" text-anchor="middle">1</text>
<text x="1792.2" y="1079.4" font-size="7.5" fill="#8c8c8c" text-anchor="middle">2</text>
<text x="1710.4" y="1133.4" font-size="7.5" fill="#8c8c8c" text-anchor="middle">1</text>
<text x="1792.2" y="1133.4" font-size="7.5" fill="#8c8c8c" text-anchor="middle">2</text>
<text x="1806.1" y="1061" font-size="17" fill="#000" text-anchor="start">S1</text>
<circle cx="1807.1" cy="1138" r="2.8" fill="#373737"/>
<line x1="756" y1="732.5" x2="756" y2="760.8" stroke="#9af09a" stroke-width="5.2" stroke-linecap="butt"/>
<line x1="756" y1="732.5" x2="756" y2="760.8" stroke="#3aaa3a" stroke-width="2.7" stroke-linecap="butt"/>
<polyline points="756,760.8 765.9,764 747.1,770.8 765.9,777.6 747.1,784.4 765.9,791.2 747.1,798 765.9,804.9 747.1,811.7 756,814.1" fill="none" stroke="#000" stroke-width="1.9" stroke-linejoin="miter"/>
<line x1="756" y1="814.1" x2="756" y2="841" stroke="#9af09a" stroke-width="5.2" stroke-linecap="butt"/>
<line x1="756" y1="814.1" x2="756" y2="841" stroke="#3aaa3a" stroke-width="2.7" stroke-linecap="butt"/>
<text x="762.2" y="746.5" font-size="8" fill="#a0a0a0" text-anchor="middle" transform="rotate(90 762.2 746.5)">1</text>
<text x="762.2" y="827.5" font-size="8" fill="#a0a0a0" text-anchor="middle" transform="rotate(90 762.2 827.5)">2</text>
<text x="777.8" y="779.8" font-size="17" fill="#000" text-anchor="start">R13</text>
<text x="777.8" y="798.9" font-size="17" fill="#000" text-anchor="start" textLength="41.5" lengthAdjust="spacingAndGlyphs">10k&#937;</text>
<circle cx="756" cy="841" r="5.2" fill="#373737"/>
<line x1="918" y1="732.5" x2="918" y2="760.8" stroke="#9af09a" stroke-width="5.2" stroke-linecap="butt"/>
<line x1="918" y1="732.5" x2="918" y2="760.8" stroke="#3aaa3a" stroke-width="2.7" stroke-linecap="butt"/>
<polyline points="918,760.8 927.9,764 909.1,770.8 927.9,777.6 909.1,784.4 927.9,791.2 909.1,798 927.9,804.9 909.1,811.7 918,814.1" fill="none" stroke="#000" stroke-width="1.9" stroke-linejoin="miter"/>
<line x1="918" y1="814.1" x2="918" y2="841" stroke="#9af09a" stroke-width="5.2" stroke-linecap="butt"/>
<line x1="918" y1="814.1" x2="918" y2="841" stroke="#3aaa3a" stroke-width="2.7" stroke-linecap="butt"/>
<text x="924.2" y="746.5" font-size="8" fill="#a0a0a0" text-anchor="middle" transform="rotate(90 924.2 746.5)">1</text>
<text x="924.2" y="827.5" font-size="8" fill="#a0a0a0" text-anchor="middle" transform="rotate(90 924.2 827.5)">2</text>
<text x="935.3" y="784.6" font-size="17" fill="#000" text-anchor="start">R9</text>
<text x="935.3" y="803.3" font-size="17" fill="#000" text-anchor="start" textLength="41.5" lengthAdjust="spacingAndGlyphs">10k&#937;</text>
<circle cx="918" cy="841" r="5.2" fill="#373737"/>
<line x1="1241.3" y1="732.5" x2="1241.3" y2="760.8" stroke="#9af09a" stroke-width="5.2" stroke-linecap="butt"/>
<line x1="1241.3" y1="732.5" x2="1241.3" y2="760.8" stroke="#3aaa3a" stroke-width="2.7" stroke-linecap="butt"/>
<polyline points="1241.3,760.8 1251.2,764 1232.4,770.8 1251.2,777.6 1232.4,784.4 1251.2,791.2 1232.4,798 1251.2,804.9 1232.4,811.7 1241.3,814.1" fill="none" stroke="#000" stroke-width="1.9" stroke-linejoin="miter"/>
<line x1="1241.3" y1="814.1" x2="1241.3" y2="841" stroke="#9af09a" stroke-width="5.2" stroke-linecap="butt"/>
<line x1="1241.3" y1="814.1" x2="1241.3" y2="841" stroke="#3aaa3a" stroke-width="2.7" stroke-linecap="butt"/>
<text x="1247.5" y="746.5" font-size="8" fill="#a0a0a0" text-anchor="middle" transform="rotate(90 1247.5 746.5)">1</text>
<text x="1247.5" y="827.5" font-size="8" fill="#a0a0a0" text-anchor="middle" transform="rotate(90 1247.5 827.5)">2</text>
<text x="1261" y="782" font-size="17" fill="#000" text-anchor="start">R10</text>
<text x="1261" y="800.7" font-size="17" fill="#000" text-anchor="start" textLength="41.5" lengthAdjust="spacingAndGlyphs">10k&#937;</text>
<circle cx="1241.3" cy="841" r="5.2" fill="#373737"/>
<line x1="1403" y1="732.5" x2="1403" y2="760.8" stroke="#9af09a" stroke-width="5.2" stroke-linecap="butt"/>
<line x1="1403" y1="732.5" x2="1403" y2="760.8" stroke="#3aaa3a" stroke-width="2.7" stroke-linecap="butt"/>
<polyline points="1403,760.8 1412.9,764 1394.1,770.8 1412.9,777.6 1394.1,784.4 1412.9,791.2 1394.1,798 1412.9,804.9 1394.1,811.7 1403,814.1" fill="none" stroke="#000" stroke-width="1.9" stroke-linejoin="miter"/>
<line x1="1403" y1="814.1" x2="1403" y2="841" stroke="#9af09a" stroke-width="5.2" stroke-linecap="butt"/>
<line x1="1403" y1="814.1" x2="1403" y2="841" stroke="#3aaa3a" stroke-width="2.7" stroke-linecap="butt"/>
<text x="1409.2" y="746.5" font-size="8" fill="#a0a0a0" text-anchor="middle" transform="rotate(90 1409.2 746.5)">1</text>
<text x="1409.2" y="827.5" font-size="8" fill="#a0a0a0" text-anchor="middle" transform="rotate(90 1409.2 827.5)">2</text>
<text x="1423" y="782" font-size="17" fill="#000" text-anchor="start">R11</text>
<text x="1423" y="800.7" font-size="17" fill="#000" text-anchor="start" textLength="41.5" lengthAdjust="spacingAndGlyphs">10k&#937;</text>
<circle cx="1403" cy="841" r="5.2" fill="#373737"/>
<line x1="1565" y1="732.5" x2="1565" y2="760.8" stroke="#9af09a" stroke-width="5.2" stroke-linecap="butt"/>
<line x1="1565" y1="732.5" x2="1565" y2="760.8" stroke="#3aaa3a" stroke-width="2.7" stroke-linecap="butt"/>
<polyline points="1565,760.8 1574.9,764 1556.1,770.8 1574.9,777.6 1556.1,784.4 1574.9,791.2 1556.1,798 1574.9,804.9 1556.1,811.7 1565,814.1" fill="none" stroke="#000" stroke-width="1.9" stroke-linejoin="miter"/>
<line x1="1565" y1="814.1" x2="1565" y2="841" stroke="#9af09a" stroke-width="5.2" stroke-linecap="butt"/>
<line x1="1565" y1="814.1" x2="1565" y2="841" stroke="#3aaa3a" stroke-width="2.7" stroke-linecap="butt"/>
<text x="1571.2" y="746.5" font-size="8" fill="#a0a0a0" text-anchor="middle" transform="rotate(90 1571.2 746.5)">1</text>
<text x="1571.2" y="827.5" font-size="8" fill="#a0a0a0" text-anchor="middle" transform="rotate(90 1571.2 827.5)">2</text>
<text x="1584.5" y="782" font-size="17" fill="#000" text-anchor="start">R12</text>
<text x="1584.5" y="800.7" font-size="17" fill="#000" text-anchor="start" textLength="41.5" lengthAdjust="spacingAndGlyphs">10k&#937;</text>
<circle cx="1565" cy="841" r="5.2" fill="#373737"/>
<line x1="567.4" y1="1244.9" x2="567.4" y2="1273.2" stroke="#9af09a" stroke-width="5.2" stroke-linecap="butt"/>
<line x1="567.4" y1="1244.9" x2="567.4" y2="1273.2" stroke="#3aaa3a" stroke-width="2.7" stroke-linecap="butt"/>
<polyline points="567.4,1273.2 577.3,1276.4 558.5,1283.2 577.3,1290 558.5,1296.8 577.3,1303.6 558.5,1310.5 577.3,1317.3 558.5,1324.1 567.4,1326.5" fill="none" stroke="#000" stroke-width="1.9" stroke-linejoin="miter"/>
<line x1="567.4" y1="1326.5" x2="567.4" y2="1353.4" stroke="#9af09a" stroke-width="5.2" stroke-linecap="butt"/>
<line x1="567.4" y1="1326.5" x2="567.4" y2="1353.4" stroke="#3aaa3a" stroke-width="2.7" stroke-linecap="butt"/>
<text x="573.6" y="1258.9" font-size="8" fill="#a0a0a0" text-anchor="middle" transform="rotate(90 573.6 1258.9)">1</text>
<text x="573.6" y="1339.9" font-size="8" fill="#a0a0a0" text-anchor="middle" transform="rotate(90 573.6 1339.9)">2</text>
<text x="587" y="1296.5" font-size="17" fill="#000" text-anchor="start">R2</text>
<text x="587" y="1315.6" font-size="17" fill="#000" text-anchor="start" textLength="41.5" lengthAdjust="spacingAndGlyphs">10k&#937;</text>
<circle cx="567.4" cy="1353.4" r="5.2" fill="#373737"/>
<line x1="729.3" y1="1244.9" x2="729.3" y2="1273.2" stroke="#9af09a" stroke-width="5.2" stroke-linecap="butt"/>
<line x1="729.3" y1="1244.9" x2="729.3" y2="1273.2" stroke="#3aaa3a" stroke-width="2.7" stroke-linecap="butt"/>
<polyline points="729.3,1273.2 739.2,1276.4 720.4,1283.2 739.2,1290 720.4,1296.8 739.2,1303.6 720.4,1310.5 739.2,1317.3 720.4,1324.1 729.3,1326.5" fill="none" stroke="#000" stroke-width="1.9" stroke-linejoin="miter"/>
<line x1="729.3" y1="1326.5" x2="729.3" y2="1353.4" stroke="#9af09a" stroke-width="5.2" stroke-linecap="butt"/>
<line x1="729.3" y1="1326.5" x2="729.3" y2="1353.4" stroke="#3aaa3a" stroke-width="2.7" stroke-linecap="butt"/>
<text x="735.5" y="1258.9" font-size="8" fill="#a0a0a0" text-anchor="middle" transform="rotate(90 735.5 1258.9)">1</text>
<text x="735.5" y="1339.9" font-size="8" fill="#a0a0a0" text-anchor="middle" transform="rotate(90 735.5 1339.9)">2</text>
<text x="749.5" y="1296.5" font-size="17" fill="#000" text-anchor="start">R3</text>
<text x="749.5" y="1315.6" font-size="17" fill="#000" text-anchor="start" textLength="41.5" lengthAdjust="spacingAndGlyphs">10k&#937;</text>
<circle cx="729.3" cy="1353.4" r="5.2" fill="#373737"/>
<line x1="891" y1="1244.9" x2="891" y2="1273.2" stroke="#9af09a" stroke-width="5.2" stroke-linecap="butt"/>
<line x1="891" y1="1244.9" x2="891" y2="1273.2" stroke="#3aaa3a" stroke-width="2.7" stroke-linecap="butt"/>
<polyline points="891,1273.2 900.9,1276.4 882.1,1283.2 900.9,1290 882.1,1296.8 900.9,1303.6 882.1,1310.5 900.9,1317.3 882.1,1324.1 891,1326.5" fill="none" stroke="#000" stroke-width="1.9" stroke-linejoin="miter"/>
<line x1="891" y1="1326.5" x2="891" y2="1353.4" stroke="#9af09a" stroke-width="5.2" stroke-linecap="butt"/>
<line x1="891" y1="1326.5" x2="891" y2="1353.4" stroke="#3aaa3a" stroke-width="2.7" stroke-linecap="butt"/>
<text x="897.2" y="1258.9" font-size="8" fill="#a0a0a0" text-anchor="middle" transform="rotate(90 897.2 1258.9)">1</text>
<text x="897.2" y="1339.9" font-size="8" fill="#a0a0a0" text-anchor="middle" transform="rotate(90 897.2 1339.9)">2</text>
<text x="911" y="1296.5" font-size="17" fill="#000" text-anchor="start">R4</text>
<text x="911" y="1315.6" font-size="17" fill="#000" text-anchor="start" textLength="41.5" lengthAdjust="spacingAndGlyphs">10k&#937;</text>
<circle cx="891" cy="1353.4" r="5.2" fill="#373737"/>
<line x1="1053" y1="1244.9" x2="1053" y2="1273.2" stroke="#9af09a" stroke-width="5.2" stroke-linecap="butt"/>
<line x1="1053" y1="1244.9" x2="1053" y2="1273.2" stroke="#3aaa3a" stroke-width="2.7" stroke-linecap="butt"/>
<polyline points="1053,1273.2 1062.9,1276.4 1044.1,1283.2 1062.9,1290 1044.1,1296.8 1062.9,1303.6 1044.1,1310.5 1062.9,1317.3 1044.1,1324.1 1053,1326.5" fill="none" stroke="#000" stroke-width="1.9" stroke-linejoin="miter"/>
<line x1="1053" y1="1326.5" x2="1053" y2="1353.4" stroke="#9af09a" stroke-width="5.2" stroke-linecap="butt"/>
<line x1="1053" y1="1326.5" x2="1053" y2="1353.4" stroke="#3aaa3a" stroke-width="2.7" stroke-linecap="butt"/>
<text x="1059.2" y="1258.9" font-size="8" fill="#a0a0a0" text-anchor="middle" transform="rotate(90 1059.2 1258.9)">1</text>
<text x="1059.2" y="1339.9" font-size="8" fill="#a0a0a0" text-anchor="middle" transform="rotate(90 1059.2 1339.9)">2</text>
<text x="1076.8" y="1294.4" font-size="17" fill="#000" text-anchor="start">R5</text>
<text x="1076.8" y="1312.7" font-size="17" fill="#000" text-anchor="start" textLength="41.5" lengthAdjust="spacingAndGlyphs">10k&#937;</text>
<circle cx="1053" cy="1353.4" r="5.2" fill="#373737"/>
<line x1="1214.7" y1="1244.9" x2="1214.7" y2="1273.2" stroke="#9af09a" stroke-width="5.2" stroke-linecap="butt"/>
<line x1="1214.7" y1="1244.9" x2="1214.7" y2="1273.2" stroke="#3aaa3a" stroke-width="2.7" stroke-linecap="butt"/>
<polyline points="1214.7,1273.2 1224.6,1276.4 1205.8,1283.2 1224.6,1290 1205.8,1296.8 1224.6,1303.6 1205.8,1310.5 1224.6,1317.3 1205.8,1324.1 1214.7,1326.5" fill="none" stroke="#000" stroke-width="1.9" stroke-linejoin="miter"/>
<line x1="1214.7" y1="1326.5" x2="1214.7" y2="1353.4" stroke="#9af09a" stroke-width="5.2" stroke-linecap="butt"/>
<line x1="1214.7" y1="1326.5" x2="1214.7" y2="1353.4" stroke="#3aaa3a" stroke-width="2.7" stroke-linecap="butt"/>
<text x="1220.9" y="1258.9" font-size="8" fill="#a0a0a0" text-anchor="middle" transform="rotate(90 1220.9 1258.9)">1</text>
<text x="1220.9" y="1339.9" font-size="8" fill="#a0a0a0" text-anchor="middle" transform="rotate(90 1220.9 1339.9)">2</text>
<text x="1234.5" y="1294.4" font-size="17" fill="#000" text-anchor="start">R6</text>
<text x="1234.5" y="1312.7" font-size="17" fill="#000" text-anchor="start" textLength="41.5" lengthAdjust="spacingAndGlyphs">10k&#937;</text>
<circle cx="1214.7" cy="1353.4" r="5.2" fill="#373737"/>
<line x1="1376" y1="1244.9" x2="1376" y2="1273.2" stroke="#9af09a" stroke-width="5.2" stroke-linecap="butt"/>
<line x1="1376" y1="1244.9" x2="1376" y2="1273.2" stroke="#3aaa3a" stroke-width="2.7" stroke-linecap="butt"/>
<polyline points="1376,1273.2 1385.9,1276.4 1367.1,1283.2 1385.9,1290 1367.1,1296.8 1385.9,1303.6 1367.1,1310.5 1385.9,1317.3 1367.1,1324.1 1376,1326.5" fill="none" stroke="#000" stroke-width="1.9" stroke-linejoin="miter"/>
<line x1="1376" y1="1326.5" x2="1376" y2="1353.4" stroke="#9af09a" stroke-width="5.2" stroke-linecap="butt"/>
<line x1="1376" y1="1326.5" x2="1376" y2="1353.4" stroke="#3aaa3a" stroke-width="2.7" stroke-linecap="butt"/>
<text x="1382.2" y="1258.9" font-size="8" fill="#a0a0a0" text-anchor="middle" transform="rotate(90 1382.2 1258.9)">1</text>
<text x="1382.2" y="1339.9" font-size="8" fill="#a0a0a0" text-anchor="middle" transform="rotate(90 1382.2 1339.9)">2</text>
<text x="1397.5" y="1294.4" font-size="17" fill="#000" text-anchor="start">R7</text>
<text x="1397.5" y="1312.7" font-size="17" fill="#000" text-anchor="start" textLength="41.5" lengthAdjust="spacingAndGlyphs">10k&#937;</text>
<circle cx="1376" cy="1353.4" r="5.2" fill="#373737"/>
<line x1="1537.7" y1="1244.9" x2="1537.7" y2="1273.2" stroke="#9af09a" stroke-width="5.2" stroke-linecap="butt"/>
<line x1="1537.7" y1="1244.9" x2="1537.7" y2="1273.2" stroke="#3aaa3a" stroke-width="2.7" stroke-linecap="butt"/>
<polyline points="1537.7,1273.2 1547.6,1276.4 1528.8,1283.2 1547.6,1290 1528.8,1296.8 1547.6,1303.6 1528.8,1310.5 1547.6,1317.3 1528.8,1324.1 1537.7,1326.5" fill="none" stroke="#000" stroke-width="1.9" stroke-linejoin="miter"/>
<line x1="1537.7" y1="1326.5" x2="1537.7" y2="1353.4" stroke="#9af09a" stroke-width="5.2" stroke-linecap="butt"/>
<line x1="1537.7" y1="1326.5" x2="1537.7" y2="1353.4" stroke="#3aaa3a" stroke-width="2.7" stroke-linecap="butt"/>
<text x="1543.9" y="1258.9" font-size="8" fill="#a0a0a0" text-anchor="middle" transform="rotate(90 1543.9 1258.9)">1</text>
<text x="1543.9" y="1339.9" font-size="8" fill="#a0a0a0" text-anchor="middle" transform="rotate(90 1543.9 1339.9)">2</text>
<text x="1559" y="1294.4" font-size="17" fill="#000" text-anchor="start">R1</text>
<text x="1559" y="1312.7" font-size="17" fill="#000" text-anchor="start" textLength="41.5" lengthAdjust="spacingAndGlyphs">10k&#937;</text>
<circle cx="1537.7" cy="1353.4" r="5.2" fill="#373737"/>
<line x1="1699.7" y1="1244.9" x2="1699.7" y2="1273.2" stroke="#9af09a" stroke-width="5.2" stroke-linecap="butt"/>
<line x1="1699.7" y1="1244.9" x2="1699.7" y2="1273.2" stroke="#3aaa3a" stroke-width="2.7" stroke-linecap="butt"/>
<polyline points="1699.7,1273.2 1709.6,1276.4 1690.8,1283.2 1709.6,1290 1690.8,1296.8 1709.6,1303.6 1690.8,1310.5 1709.6,1317.3 1690.8,1324.1 1699.7,1326.5" fill="none" stroke="#000" stroke-width="1.9" stroke-linejoin="miter"/>
<line x1="1699.7" y1="1326.5" x2="1699.7" y2="1353.4" stroke="#9af09a" stroke-width="5.2" stroke-linecap="butt"/>
<line x1="1699.7" y1="1326.5" x2="1699.7" y2="1353.4" stroke="#3aaa3a" stroke-width="2.7" stroke-linecap="butt"/>
<text x="1705.9" y="1258.9" font-size="8" fill="#a0a0a0" text-anchor="middle" transform="rotate(90 1705.9 1258.9)">1</text>
<text x="1705.9" y="1339.9" font-size="8" fill="#a0a0a0" text-anchor="middle" transform="rotate(90 1705.9 1339.9)">2</text>
<text x="1724.8" y="1294.4" font-size="17" fill="#000" text-anchor="start">R8</text>
<text x="1724.8" y="1312.7" font-size="17" fill="#000" text-anchor="start" textLength="41.5" lengthAdjust="spacingAndGlyphs">10k&#937;</text>
<circle cx="891" cy="221.3" r="5.5" fill="#373737"/>
<line x1="891.2" y1="243" x2="891.2" y2="276.5" stroke="#373737" stroke-width="3.8" stroke-linecap="butt"/>
<circle cx="486.6" cy="194.3" r="3.1" fill="#7ff07f" fill-opacity="0.55"/>
<circle cx="486.6" cy="275.2" r="3.1" fill="#7ff07f" fill-opacity="0.55"/>
<circle cx="891" cy="86.8" r="3.1" fill="#7ff07f" fill-opacity="0.55"/>
<circle cx="971.7" cy="86.8" r="3.1" fill="#7ff07f" fill-opacity="0.55"/>
<circle cx="567.2" cy="1084" r="3.1" fill="#7ff07f" fill-opacity="0.55"/>
<circle cx="998.8" cy="86.8" r="3.1" fill="#7ff07f" fill-opacity="0.55"/>
<circle cx="753.8" cy="544.6" r="3.1" fill="#7ff07f" fill-opacity="0.55"/>
<circle cx="1187.5" cy="86.8" r="3.1" fill="#7ff07f" fill-opacity="0.55"/>
<circle cx="1700" cy="1084" r="3.1" fill="#7ff07f" fill-opacity="0.55"/>
<circle cx="918" cy="221.3" r="3.1" fill="#7ff07f" fill-opacity="0.55"/>
<circle cx="729" cy="1084" r="3.1" fill="#7ff07f" fill-opacity="0.55"/>
<circle cx="944.8" cy="221.3" r="3.1" fill="#7ff07f" fill-opacity="0.55"/>
<circle cx="918" cy="544.6" r="3.1" fill="#7ff07f" fill-opacity="0.55"/>
<circle cx="971.7" cy="221.3" r="3.1" fill="#7ff07f" fill-opacity="0.55"/>
<circle cx="891" cy="1084" r="3.1" fill="#7ff07f" fill-opacity="0.55"/>
<circle cx="998.8" cy="221.3" r="3.1" fill="#7ff07f" fill-opacity="0.55"/>
<circle cx="1052.6" cy="1084" r="3.1" fill="#7ff07f" fill-opacity="0.55"/>
<circle cx="1025.7" cy="221.3" r="3.1" fill="#7ff07f" fill-opacity="0.55"/>
<circle cx="1241" cy="544.6" r="3.1" fill="#7ff07f" fill-opacity="0.55"/>
<circle cx="1052.7" cy="221.3" r="3.1" fill="#7ff07f" fill-opacity="0.55"/>
<circle cx="1214.1" cy="1084" r="3.1" fill="#7ff07f" fill-opacity="0.55"/>
<circle cx="1079.6" cy="221.3" r="3.1" fill="#7ff07f" fill-opacity="0.55"/>
<circle cx="1402" cy="544.6" r="3.1" fill="#7ff07f" fill-opacity="0.55"/>
<circle cx="1106.6" cy="221.3" r="3.1" fill="#7ff07f" fill-opacity="0.55"/>
<circle cx="1376.4" cy="1084" r="3.1" fill="#7ff07f" fill-opacity="0.55"/>
<circle cx="1133.6" cy="221.3" r="3.1" fill="#7ff07f" fill-opacity="0.55"/>
<circle cx="1565" cy="544.6" r="3.1" fill="#7ff07f" fill-opacity="0.55"/>
<circle cx="1160.6" cy="221.3" r="3.1" fill="#7ff07f" fill-opacity="0.55"/>
<circle cx="1538" cy="1084" r="3.1" fill="#7ff07f" fill-opacity="0.55"/>
<circle cx="1187.5" cy="221.3" r="3.1" fill="#7ff07f" fill-opacity="0.55"/>
<circle cx="1511" cy="86.2" r="3.1" fill="#7ff07f" fill-opacity="0.55"/>
<circle cx="1619.3" cy="86.6" r="3.1" fill="#7ff07f" fill-opacity="0.55"/>
<circle cx="1457.3" cy="598.5" r="3.1" fill="#7ff07f" fill-opacity="0.55"/>
<circle cx="673.5" cy="1084" r="3.1" fill="#7ff07f" fill-opacity="0.55"/>
<circle cx="756" cy="733" r="3.1" fill="#7ff07f" fill-opacity="0.55"/>
<circle cx="918" cy="733" r="3.1" fill="#7ff07f" fill-opacity="0.55"/>
<circle cx="1241.3" cy="733" r="3.1" fill="#7ff07f" fill-opacity="0.55"/>
<circle cx="1403" cy="733" r="3.1" fill="#7ff07f" fill-opacity="0.55"/>
<circle cx="1565" cy="733" r="3.1" fill="#7ff07f" fill-opacity="0.55"/>
<circle cx="567.1" cy="1138" r="3.1" fill="#7ff07f" fill-opacity="0.55"/>
<circle cx="567.4" cy="1245" r="3.1" fill="#7ff07f" fill-opacity="0.55"/>
<circle cx="728.8" cy="1138" r="3.1" fill="#7ff07f" fill-opacity="0.55"/>
<circle cx="729.3" cy="1245" r="3.1" fill="#7ff07f" fill-opacity="0.55"/>
<circle cx="890.5" cy="1138" r="3.1" fill="#7ff07f" fill-opacity="0.55"/>
<circle cx="891" cy="1245" r="3.1" fill="#7ff07f" fill-opacity="0.55"/>
<circle cx="1052.6" cy="1138" r="3.1" fill="#7ff07f" fill-opacity="0.55"/>
<circle cx="1053" cy="1245" r="3.1" fill="#7ff07f" fill-opacity="0.55"/>
<circle cx="1214.1" cy="1138" r="3.1" fill="#7ff07f" fill-opacity="0.55"/>
<circle cx="1214.7" cy="1245" r="3.1" fill="#7ff07f" fill-opacity="0.55"/>
<circle cx="1376.2" cy="1138" r="3.1" fill="#7ff07f" fill-opacity="0.55"/>
<circle cx="1376" cy="1245" r="3.1" fill="#7ff07f" fill-opacity="0.55"/>
<circle cx="1537.9" cy="1138" r="3.1" fill="#7ff07f" fill-opacity="0.55"/>
<circle cx="1537.7" cy="1245" r="3.1" fill="#7ff07f" fill-opacity="0.55"/>
<circle cx="1699.6" cy="1138" r="3.1" fill="#7ff07f" fill-opacity="0.55"/>
<circle cx="1699.7" cy="1245" r="3.1" fill="#7ff07f" fill-opacity="0.55"/>
<circle cx="1699.7" cy="1353.4" r="3.1" fill="#7ff07f" fill-opacity="0.55"/>
<circle cx="2022.8" cy="86.6" r="3.1" fill="#7ff07f" fill-opacity="0.55"/>
<circle cx="1996" cy="140.3" r="3.1" fill="#7ff07f" fill-opacity="0.55"/>
<path d="M2021.5,1414 V1390 Q2021.5,1384.3 2027,1384.3 H2031.5" fill="none" stroke="#8c8c8c" stroke-width="4.8" stroke-linecap="round" stroke-linejoin="round"/>
<path d="M2016.8,1395.3 H2028.5" fill="none" stroke="#8c8c8c" stroke-width="4.8" stroke-linecap="round" stroke-linejoin="round"/>
<path d="M2039,1394.5 V1410" fill="none" stroke="#8c8c8c" stroke-width="4.8" stroke-linecap="round" stroke-linejoin="round"/>
<path d="M2039,1403.5 L2046,1396.5 Q2047.5,1395.3 2050.3,1395.3" fill="none" stroke="#8c8c8c" stroke-width="4.8" stroke-linecap="round" stroke-linejoin="round"/>
<path d="M2058.8,1395.3 H2063.3 V1414" fill="none" stroke="#8c8c8c" stroke-width="4.8" stroke-linecap="round" stroke-linejoin="round"/>
<path d="M2078.7,1383.5 V1410 Q2078.7,1414 2082.5,1414 H2086.5" fill="none" stroke="#8c8c8c" stroke-width="4.8" stroke-linecap="round" stroke-linejoin="round"/>
<path d="M2073.2,1395.3 H2087.5" fill="none" stroke="#8c8c8c" stroke-width="4.8" stroke-linecap="round" stroke-linejoin="round"/>
<path d="M2096.2,1395.3 H2111.8 L2096.2,1413.8 H2109" fill="none" stroke="#8c8c8c" stroke-width="4.8" stroke-linecap="round" stroke-linejoin="round"/>
<path d="M2123.2,1395.3 H2127.4 V1414" fill="none" stroke="#8c8c8c" stroke-width="4.8" stroke-linecap="round" stroke-linejoin="round"/>
<path d="M2139.7,1394.5 V1414" fill="none" stroke="#8c8c8c" stroke-width="4.8" stroke-linecap="round" stroke-linejoin="round"/>
<path d="M2139.7,1402 Q2145,1396 2151,1395.5 Q2155.3,1395.5 2155.3,1400 V1409.5" fill="none" stroke="#8c8c8c" stroke-width="4.8" stroke-linecap="round" stroke-linejoin="round"/>
<path d="M2183.5,1398.5 L2180.5,1395.6 H2172 Q2167.6,1395.6 2167.6,1400 V1408.5 Q2167.6,1413.9 2172.5,1413.9 H2180 L2183.5,1410.5" fill="none" stroke="#8c8c8c" stroke-width="4.8" stroke-linecap="round" stroke-linejoin="round"/>
<path d="M2184.5,1394.5 V1419 Q2184.5,1425.3 2178,1425.3 H2168.8" fill="none" stroke="#8c8c8c" stroke-width="4.8" stroke-linecap="round" stroke-linejoin="round"/>
<circle cx="2038.9" cy="1414" r="3.7" fill="#fff" stroke="#8c8c8c" stroke-width="2.6"/>
<circle cx="2062.6" cy="1384.5" r="3.7" fill="#fff" stroke="#8c8c8c" stroke-width="2.6"/>
<circle cx="2113" cy="1414" r="3.7" fill="#fff" stroke="#8c8c8c" stroke-width="2.6"/>
<circle cx="2126.6" cy="1384.5" r="3.7" fill="#fff" stroke="#8c8c8c" stroke-width="2.6"/>
<circle cx="2155.8" cy="1414" r="3.7" fill="#fff" stroke="#8c8c8c" stroke-width="2.6"/>
</svg></body></html>
